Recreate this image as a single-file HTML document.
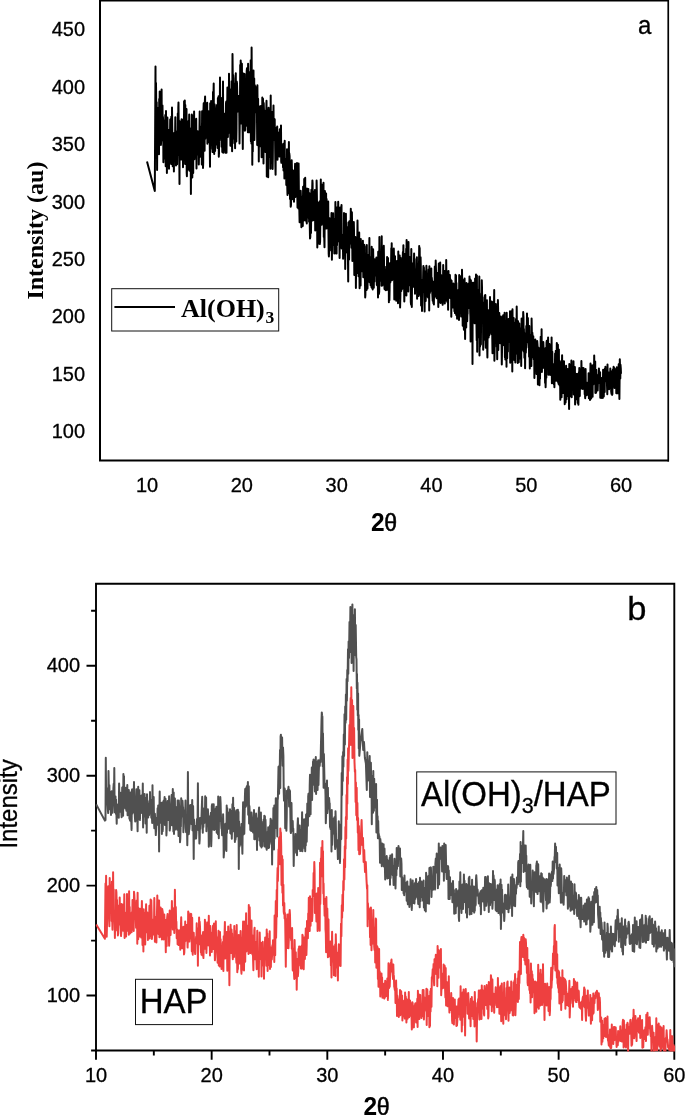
<!DOCTYPE html>
<html><head><meta charset="utf-8"><title>XRD</title>
<style>html,body{margin:0;padding:0;background:#fff;}body{width:685px;height:1115px;overflow:hidden;font-family:"Liberation Sans",sans-serif;}</style>
</head><body>
<svg width="685" height="1115" viewBox="0 0 685 1115" style="display:block;will-change:transform">
<rect width="685" height="1115" fill="#fff"/>
<g fill="none" stroke="#000">
<path d="M100,0 V460.5 H669" stroke-width="2.0"/>
<path d="M99,0.8 H669" stroke-width="1.6"/><path d="M668.25,0 V461.5" stroke-width="1.7"/>
</g>
<text font-family="Liberation Sans, sans-serif" font-size="20" text-anchor="end" transform="translate(85.10,438.09) scale(1,1.04)"  stroke="#000" stroke-width="0.3">100</text>
<text font-family="Liberation Sans, sans-serif" font-size="20" text-anchor="end" transform="translate(85.10,380.71) scale(1,1.04)"  stroke="#000" stroke-width="0.3">150</text>
<text font-family="Liberation Sans, sans-serif" font-size="20" text-anchor="end" transform="translate(85.10,323.32) scale(1,1.04)"  stroke="#000" stroke-width="0.3">200</text>
<text font-family="Liberation Sans, sans-serif" font-size="20" text-anchor="end" transform="translate(85.10,265.94) scale(1,1.04)"  stroke="#000" stroke-width="0.3">250</text>
<text font-family="Liberation Sans, sans-serif" font-size="20" text-anchor="end" transform="translate(85.10,208.55) scale(1,1.04)"  stroke="#000" stroke-width="0.3">300</text>
<text font-family="Liberation Sans, sans-serif" font-size="20" text-anchor="end" transform="translate(85.10,151.17) scale(1,1.04)"  stroke="#000" stroke-width="0.3">350</text>
<text font-family="Liberation Sans, sans-serif" font-size="20" text-anchor="end" transform="translate(85.10,93.78) scale(1,1.04)"  stroke="#000" stroke-width="0.3">400</text>
<text font-family="Liberation Sans, sans-serif" font-size="20" text-anchor="end" transform="translate(85.10,36.40) scale(1,1.04)"  stroke="#000" stroke-width="0.3">450</text>
<text font-family="Liberation Sans, sans-serif" font-size="20" text-anchor="middle" transform="translate(147.00,491.60) scale(1,1.04)"  stroke="#000" stroke-width="0.3">10</text>
<text font-family="Liberation Sans, sans-serif" font-size="20" text-anchor="middle" transform="translate(241.82,491.60) scale(1,1.04)"  stroke="#000" stroke-width="0.3">20</text>
<text font-family="Liberation Sans, sans-serif" font-size="20" text-anchor="middle" transform="translate(336.64,491.60) scale(1,1.04)"  stroke="#000" stroke-width="0.3">30</text>
<text font-family="Liberation Sans, sans-serif" font-size="20" text-anchor="middle" transform="translate(431.46,491.60) scale(1,1.04)"  stroke="#000" stroke-width="0.3">40</text>
<text font-family="Liberation Sans, sans-serif" font-size="20" text-anchor="middle" transform="translate(526.28,491.60) scale(1,1.04)"  stroke="#000" stroke-width="0.3">50</text>
<text font-family="Liberation Sans, sans-serif" font-size="20" text-anchor="middle" transform="translate(621.10,491.60) scale(1,1.04)"  stroke="#000" stroke-width="0.3">60</text>
<text font-family="Liberation Sans, sans-serif" font-size="24" text-anchor="start" transform="translate(638.00,33.60) scale(1,1.04)"  stroke="#000" stroke-width="0.3">a</text>
<text font-family="Liberation Sans, sans-serif" font-size="24.5" text-anchor="start" transform="translate(371.00,531.00) scale(1,1.04)" font-weight="bold">2<tspan font-weight="normal" font-size="23.2" dx="-0.5" stroke="#000" stroke-width="0.5">θ</tspan></text>
<text font-family="Liberation Serif, serif" font-size="24" font-weight="bold" transform="translate(42.8,299.6) rotate(-90)">Intensity (au)</text>
<path d="M147.0,161.5 L154.8,191.0 L155.5,66.5 L155.7,150.0 L156.0,83.0 L156.2,102.3 L156.4,116.7 L156.7,102.2 L156.9,134.0 L157.1,170.0 L157.4,117.2 L157.6,113.9 L157.8,147.9 L158.1,144.9 L158.3,137.3 L158.5,107.7 L158.8,133.7 L159.0,154.2 L159.2,99.1 L159.5,122.7 L159.7,91.5 L159.9,103.5 L160.2,94.1 L160.4,131.4 L160.6,106.1 L160.9,144.9 L161.1,141.6 L161.3,132.2 L161.6,89.4 L161.8,124.1 L162.0,136.2 L162.2,140.3 L162.5,105.5 L162.7,126.7 L162.9,116.8 L163.2,121.1 L163.4,162.3 L163.6,120.4 L163.9,137.9 L164.1,158.4 L164.3,126.0 L164.6,135.8 L164.8,141.2 L165.0,139.8 L165.3,115.1 L165.5,141.1 L165.7,166.3 L166.0,111.1 L166.2,157.8 L166.4,142.3 L166.7,126.2 L166.9,172.9 L167.1,154.5 L167.4,117.5 L167.6,142.0 L167.8,152.0 L168.1,137.4 L168.3,155.2 L168.5,140.3 L168.8,155.4 L169.0,168.8 L169.2,129.7 L169.5,146.5 L169.7,133.5 L169.9,144.5 L170.2,119.6 L170.4,130.0 L170.6,138.5 L170.9,160.2 L171.1,163.9 L171.3,116.8 L171.6,125.9 L171.8,155.1 L172.0,107.6 L172.3,131.7 L172.5,139.9 L172.7,166.3 L173.0,156.6 L173.2,133.8 L173.4,133.5 L173.7,136.8 L173.9,171.6 L174.1,133.3 L174.4,135.6 L174.6,149.2 L174.8,138.8 L175.1,136.3 L175.3,117.2 L175.5,141.2 L175.7,131.0 L176.0,165.5 L176.2,155.5 L176.4,140.4 L176.7,156.3 L176.9,134.1 L177.1,164.3 L177.4,142.1 L177.6,155.0 L177.8,113.4 L178.1,149.9 L178.3,107.6 L178.5,102.4 L178.8,134.3 L179.0,120.4 L179.2,145.1 L179.5,183.9 L179.7,121.3 L179.9,126.0 L180.2,146.9 L180.4,153.8 L180.6,137.5 L180.9,137.5 L181.1,159.6 L181.3,155.5 L181.6,119.3 L181.8,142.6 L182.0,145.4 L182.3,119.6 L182.5,150.4 L182.7,123.1 L183.0,167.3 L183.2,148.3 L183.4,145.6 L183.7,128.2 L183.9,139.9 L184.1,101.3 L184.4,116.1 L184.6,152.9 L184.8,100.4 L185.1,164.0 L185.3,105.0 L185.5,161.8 L185.8,122.7 L186.0,162.9 L186.2,147.3 L186.5,109.1 L186.7,172.9 L186.9,176.2 L187.2,142.2 L187.4,137.7 L187.6,140.9 L187.9,121.5 L188.1,169.4 L188.3,130.2 L188.6,141.5 L188.8,123.9 L189.0,128.3 L189.2,114.6 L189.5,170.8 L189.7,139.5 L189.9,166.1 L190.2,145.0 L190.4,128.7 L190.6,137.1 L190.9,194.0 L191.1,145.3 L191.3,135.5 L191.6,136.7 L191.8,114.4 L192.0,125.6 L192.3,177.5 L192.5,129.6 L192.7,122.4 L193.0,152.6 L193.2,173.1 L193.4,115.5 L193.7,139.9 L193.9,130.6 L194.1,111.4 L194.4,159.2 L194.6,142.4 L194.8,144.5 L195.1,126.9 L195.3,153.1 L195.5,132.2 L195.8,140.1 L196.0,120.8 L196.2,118.8 L196.5,168.6 L196.7,131.6 L196.9,148.6 L197.2,141.8 L197.4,133.2 L197.6,131.2 L197.9,154.5 L198.1,134.6 L198.3,137.6 L198.6,141.7 L198.8,164.4 L199.0,154.7 L199.3,146.8 L199.5,126.8 L199.7,111.4 L200.0,156.5 L200.2,156.6 L200.4,134.5 L200.7,148.2 L200.9,152.5 L201.1,152.2 L201.4,154.7 L201.6,126.6 L201.8,164.5 L202.1,111.2 L202.3,152.8 L202.5,145.3 L202.7,152.2 L203.0,167.9 L203.2,162.6 L203.4,112.0 L203.7,103.2 L203.9,150.5 L204.1,113.0 L204.4,132.4 L204.6,150.7 L204.8,102.4 L205.1,96.6 L205.3,138.6 L205.5,133.4 L205.8,126.9 L206.0,132.4 L206.2,113.9 L206.5,103.3 L206.7,129.2 L206.9,113.2 L207.2,102.8 L207.4,143.7 L207.6,131.8 L207.9,142.3 L208.1,113.0 L208.3,118.6 L208.6,111.2 L208.8,113.1 L209.0,135.6 L209.3,115.1 L209.5,138.7 L209.7,139.0 L210.0,166.8 L210.2,103.3 L210.4,148.9 L210.7,128.2 L210.9,129.3 L211.1,100.9 L211.4,119.6 L211.6,144.8 L211.8,127.9 L212.1,131.1 L212.3,122.8 L212.5,152.1 L212.8,128.8 L213.0,92.1 L213.2,115.0 L213.5,94.3 L213.7,83.4 L213.9,116.5 L214.2,154.1 L214.4,129.2 L214.6,104.2 L214.9,108.4 L215.1,151.0 L215.3,132.0 L215.5,129.3 L215.8,126.8 L216.0,128.9 L216.2,144.6 L216.5,139.5 L216.7,131.7 L216.9,104.9 L217.2,137.8 L217.4,110.0 L217.6,147.9 L217.9,98.0 L218.1,121.1 L218.3,124.0 L218.6,96.3 L218.8,156.8 L219.0,153.2 L219.3,112.5 L219.5,140.2 L219.7,131.1 L220.0,77.5 L220.2,128.1 L220.4,120.3 L220.7,123.7 L220.9,97.8 L221.1,114.6 L221.4,116.1 L221.6,146.8 L221.8,128.1 L222.1,120.0 L222.3,151.9 L222.5,105.5 L222.8,109.9 L223.0,81.6 L223.2,152.7 L223.5,141.6 L223.7,140.7 L223.9,135.1 L224.2,121.3 L224.4,125.7 L224.6,113.8 L224.9,115.5 L225.1,121.5 L225.3,152.7 L225.6,131.9 L225.8,116.4 L226.0,103.1 L226.3,101.4 L226.5,152.7 L226.7,129.0 L227.0,117.6 L227.2,105.6 L227.4,87.5 L227.7,112.4 L227.9,136.9 L228.1,104.5 L228.4,108.2 L228.6,107.5 L228.8,114.4 L229.0,73.8 L229.3,104.4 L229.5,89.0 L229.7,133.0 L230.0,90.2 L230.2,125.3 L230.4,145.7 L230.7,100.9 L230.9,92.5 L231.1,113.3 L231.4,106.5 L231.6,81.3 L231.8,119.1 L232.1,151.3 L232.3,99.7 L232.5,54.0 L232.8,79.9 L233.0,114.9 L233.2,75.0 L233.5,78.5 L233.7,138.4 L233.9,83.5 L234.2,134.8 L234.4,143.2 L234.6,113.3 L234.9,119.7 L235.1,148.2 L235.3,99.6 L235.6,89.6 L235.8,73.3 L236.0,107.0 L236.3,141.4 L236.5,129.8 L236.7,81.5 L237.0,83.5 L237.2,91.5 L237.4,111.8 L237.7,98.0 L237.9,109.2 L238.1,111.0 L238.4,96.1 L238.6,102.3 L238.8,108.4 L239.1,100.3 L239.3,116.0 L239.5,143.5 L239.8,117.9 L240.0,104.3 L240.2,65.1 L240.5,112.6 L240.7,60.5 L240.9,69.0 L241.2,123.5 L241.4,120.0 L241.6,97.9 L241.9,63.7 L242.1,93.0 L242.3,85.2 L242.5,119.0 L242.8,149.1 L243.0,108.1 L243.2,82.2 L243.5,73.5 L243.7,100.9 L243.9,97.4 L244.2,73.8 L244.4,105.7 L244.6,74.1 L244.9,130.8 L245.1,130.1 L245.3,130.0 L245.6,89.6 L245.8,116.3 L246.0,99.6 L246.3,92.7 L246.5,94.3 L246.7,71.1 L247.0,68.2 L247.2,126.1 L247.4,99.8 L247.7,111.6 L247.9,132.3 L248.1,63.7 L248.4,84.3 L248.6,111.2 L248.8,117.0 L249.1,93.8 L249.3,132.3 L249.5,109.9 L249.8,71.9 L250.0,79.6 L250.2,127.1 L250.5,118.7 L250.7,60.2 L250.9,141.3 L251.2,124.2 L251.4,143.5 L251.6,47.4 L251.9,100.7 L252.1,79.6 L252.3,164.8 L252.6,106.7 L252.8,151.6 L253.0,93.3 L253.3,116.1 L253.5,70.4 L253.7,100.9 L254.0,138.0 L254.2,78.6 L254.4,140.1 L254.7,121.8 L254.9,85.3 L255.1,99.1 L255.3,100.6 L255.6,112.3 L255.8,100.0 L256.0,93.9 L256.3,108.9 L256.5,92.0 L256.7,87.0 L257.0,118.9 L257.2,144.9 L257.4,85.2 L257.7,123.0 L257.9,106.4 L258.1,98.7 L258.4,146.1 L258.6,111.4 L258.8,161.6 L259.1,106.3 L259.3,137.5 L259.5,121.7 L259.8,109.1 L260.0,145.2 L260.2,126.5 L260.5,146.3 L260.7,130.4 L260.9,105.9 L261.2,130.4 L261.4,134.7 L261.6,157.3 L261.9,111.9 L262.1,134.7 L262.3,97.6 L262.6,153.0 L262.8,110.6 L263.0,98.7 L263.3,136.1 L263.5,163.6 L263.7,103.0 L264.0,111.6 L264.2,119.1 L264.4,110.4 L264.7,146.6 L264.9,118.1 L265.1,119.6 L265.4,152.1 L265.6,119.4 L265.8,148.9 L266.1,115.5 L266.3,110.7 L266.5,100.7 L266.8,176.6 L267.0,130.5 L267.2,144.5 L267.5,138.5 L267.7,142.2 L267.9,140.3 L268.2,177.2 L268.4,116.3 L268.6,107.8 L268.8,116.4 L269.1,110.0 L269.3,155.8 L269.5,157.0 L269.8,117.7 L270.0,109.8 L270.2,130.9 L270.5,168.8 L270.7,95.4 L270.9,152.0 L271.2,117.6 L271.4,163.2 L271.6,118.5 L271.9,134.6 L272.1,111.9 L272.3,120.3 L272.6,169.1 L272.8,157.8 L273.0,131.7 L273.3,122.2 L273.5,105.5 L273.7,131.7 L274.0,140.1 L274.2,138.6 L274.4,139.1 L274.7,119.3 L274.9,139.8 L275.1,140.7 L275.4,166.8 L275.6,174.8 L275.8,139.6 L276.1,128.1 L276.3,143.4 L276.5,132.7 L276.8,131.1 L277.0,144.9 L277.2,126.4 L277.5,159.7 L277.7,145.6 L277.9,154.6 L278.2,146.2 L278.4,136.0 L278.6,132.7 L278.9,146.5 L279.1,140.9 L279.3,156.6 L279.6,152.8 L279.8,129.3 L280.0,156.2 L280.3,131.6 L280.5,145.5 L280.7,152.2 L281.0,125.5 L281.2,161.4 L281.4,162.8 L281.7,157.9 L281.9,153.7 L282.1,155.0 L282.3,145.3 L282.6,159.1 L282.8,154.3 L283.0,167.2 L283.3,143.8 L283.5,170.5 L283.7,168.6 L284.0,164.4 L284.2,158.9 L284.4,178.4 L284.7,140.8 L284.9,177.6 L285.1,173.6 L285.4,175.4 L285.6,177.5 L285.8,159.0 L286.1,166.8 L286.3,184.9 L286.5,181.7 L286.8,178.1 L287.0,149.3 L287.2,184.6 L287.5,195.0 L287.7,193.1 L287.9,180.0 L288.2,150.4 L288.4,193.1 L288.6,173.7 L288.9,141.9 L289.1,184.1 L289.3,153.3 L289.6,156.2 L289.8,167.2 L290.0,199.1 L290.3,171.9 L290.5,184.3 L290.7,206.8 L291.0,205.0 L291.2,178.9 L291.4,176.2 L291.7,160.3 L291.9,169.0 L292.1,189.5 L292.4,189.6 L292.6,184.7 L292.8,199.2 L293.1,170.5 L293.3,182.5 L293.5,196.4 L293.8,194.1 L294.0,201.8 L294.2,192.2 L294.5,181.1 L294.7,192.8 L294.9,171.3 L295.1,163.8 L295.4,196.9 L295.6,187.4 L295.8,194.6 L296.1,165.7 L296.3,184.3 L296.5,181.2 L296.8,177.1 L297.0,163.1 L297.2,187.4 L297.5,207.6 L297.7,200.0 L297.9,184.3 L298.2,194.8 L298.4,208.5 L298.6,163.5 L298.9,194.5 L299.1,206.0 L299.3,208.2 L299.6,222.3 L299.8,216.0 L300.0,204.4 L300.3,205.4 L300.5,212.2 L300.7,190.7 L301.0,198.9 L301.2,214.4 L301.4,227.3 L301.7,197.0 L301.9,199.2 L302.1,205.4 L302.4,224.5 L302.6,202.8 L302.8,226.0 L303.1,186.7 L303.3,199.5 L303.5,199.4 L303.8,216.8 L304.0,220.4 L304.2,178.9 L304.5,186.9 L304.7,208.5 L304.9,190.2 L305.2,177.7 L305.4,220.1 L305.6,212.2 L305.9,212.7 L306.1,194.5 L306.3,221.8 L306.6,199.3 L306.8,223.5 L307.0,188.5 L307.3,189.4 L307.5,208.9 L307.7,192.4 L308.0,217.6 L308.2,210.3 L308.4,189.1 L308.6,207.4 L308.9,199.1 L309.1,221.8 L309.3,192.9 L309.6,196.4 L309.8,226.4 L310.0,238.6 L310.3,237.1 L310.5,206.9 L310.7,211.0 L311.0,233.1 L311.2,205.3 L311.4,189.8 L311.7,210.9 L311.9,217.5 L312.1,192.6 L312.4,180.4 L312.6,183.1 L312.8,220.5 L313.1,193.8 L313.3,205.1 L313.5,212.8 L313.8,220.1 L314.0,201.3 L314.2,217.3 L314.5,191.5 L314.7,201.5 L314.9,189.9 L315.2,230.6 L315.4,208.2 L315.6,193.9 L315.9,201.8 L316.1,204.1 L316.3,222.5 L316.6,180.4 L316.8,189.7 L317.0,202.3 L317.3,247.6 L317.5,229.1 L317.7,208.2 L318.0,224.9 L318.2,243.8 L318.4,205.6 L318.7,202.6 L318.9,232.9 L319.1,220.8 L319.4,224.5 L319.6,201.6 L319.8,244.1 L320.1,241.5 L320.3,223.6 L320.5,225.2 L320.8,179.6 L321.0,224.0 L321.2,208.7 L321.5,220.6 L321.7,224.8 L321.9,205.4 L322.1,184.7 L322.4,220.6 L322.6,200.5 L322.8,208.3 L323.1,203.8 L323.3,208.9 L323.5,182.7 L323.8,237.1 L324.0,221.2 L324.2,236.5 L324.5,247.3 L324.7,218.9 L324.9,191.1 L325.2,204.4 L325.4,200.8 L325.6,212.5 L325.9,223.1 L326.1,193.5 L326.3,228.4 L326.6,199.1 L326.8,228.2 L327.0,221.1 L327.3,217.9 L327.5,223.3 L327.7,216.1 L328.0,215.9 L328.2,201.5 L328.4,226.4 L328.7,254.0 L328.9,256.4 L329.1,249.1 L329.4,240.6 L329.6,218.3 L329.8,250.6 L330.1,228.0 L330.3,228.7 L330.5,225.0 L330.8,230.8 L331.0,222.7 L331.2,228.7 L331.5,213.1 L331.7,223.3 L331.9,259.8 L332.2,228.7 L332.4,225.8 L332.6,238.7 L332.9,242.1 L333.1,213.3 L333.3,227.2 L333.6,245.0 L333.8,234.0 L334.0,231.6 L334.3,253.5 L334.5,218.8 L334.7,231.5 L335.0,220.8 L335.2,253.3 L335.4,202.0 L335.6,218.5 L335.9,220.2 L336.1,242.3 L336.3,241.9 L336.6,253.6 L336.8,207.5 L337.0,245.2 L337.3,226.3 L337.5,220.1 L337.7,241.5 L338.0,216.4 L338.2,201.8 L338.4,225.0 L338.7,207.6 L338.9,220.0 L339.1,238.1 L339.4,237.5 L339.6,258.1 L339.8,228.8 L340.1,207.5 L340.3,219.7 L340.5,218.1 L340.8,213.5 L341.0,242.5 L341.2,223.2 L341.5,205.1 L341.7,248.6 L341.9,234.4 L342.2,243.3 L342.4,238.9 L342.6,248.7 L342.9,238.4 L343.1,258.8 L343.3,244.9 L343.6,244.7 L343.8,245.8 L344.0,213.1 L344.3,235.5 L344.5,234.7 L344.7,244.3 L345.0,215.9 L345.2,268.9 L345.4,243.7 L345.7,220.0 L345.9,213.7 L346.1,237.1 L346.4,240.9 L346.6,227.5 L346.8,244.3 L347.1,228.7 L347.3,252.8 L347.5,227.1 L347.8,241.3 L348.0,261.7 L348.2,281.6 L348.4,222.6 L348.7,233.5 L348.9,226.1 L349.1,259.6 L349.4,221.2 L349.6,234.2 L349.8,243.6 L350.1,224.4 L350.3,225.0 L350.5,234.6 L350.8,208.7 L351.0,217.3 L351.2,236.4 L351.5,247.7 L351.7,240.9 L351.9,212.2 L352.2,234.2 L352.4,261.0 L352.6,255.5 L352.9,241.9 L353.1,226.2 L353.3,257.7 L353.6,234.1 L353.8,222.0 L354.0,230.1 L354.3,275.0 L354.5,252.9 L354.7,271.7 L355.0,239.1 L355.2,268.1 L355.4,237.0 L355.7,245.5 L355.9,288.1 L356.1,265.0 L356.4,239.1 L356.6,247.7 L356.8,256.6 L357.1,273.1 L357.3,240.6 L357.5,220.4 L357.8,245.1 L358.0,251.4 L358.2,253.6 L358.5,276.2 L358.7,258.2 L358.9,268.4 L359.2,232.6 L359.4,269.7 L359.6,288.3 L359.9,270.1 L360.1,260.6 L360.3,259.3 L360.6,285.4 L360.8,239.0 L361.0,254.2 L361.3,265.4 L361.5,271.3 L361.7,249.7 L361.9,264.3 L362.2,253.7 L362.4,261.5 L362.6,257.4 L362.9,240.7 L363.1,260.7 L363.3,277.3 L363.6,244.6 L363.8,258.0 L364.0,275.4 L364.3,244.7 L364.5,267.2 L364.7,246.4 L365.0,284.0 L365.2,297.5 L365.4,294.7 L365.7,261.7 L365.9,278.6 L366.1,267.6 L366.4,267.5 L366.6,290.0 L366.8,244.9 L367.1,283.6 L367.3,265.1 L367.5,288.5 L367.8,269.7 L368.0,255.1 L368.2,271.4 L368.5,278.5 L368.7,267.1 L368.9,275.2 L369.2,258.4 L369.4,238.1 L369.6,282.3 L369.9,279.2 L370.1,270.3 L370.3,268.9 L370.6,285.3 L370.8,260.6 L371.0,256.9 L371.3,265.9 L371.5,287.3 L371.7,246.8 L372.0,288.1 L372.2,258.7 L372.4,252.0 L372.7,289.6 L372.9,268.4 L373.1,249.2 L373.4,263.0 L373.6,283.9 L373.8,287.8 L374.1,261.3 L374.3,276.3 L374.5,281.6 L374.8,259.2 L375.0,275.6 L375.2,268.7 L375.4,259.7 L375.7,259.4 L375.9,268.8 L376.1,267.9 L376.4,257.5 L376.6,259.4 L376.8,284.9 L377.1,270.6 L377.3,282.0 L377.5,285.8 L377.8,276.3 L378.0,297.4 L378.2,251.8 L378.5,280.0 L378.7,261.2 L378.9,293.9 L379.2,291.8 L379.4,236.9 L379.6,249.2 L379.9,277.8 L380.1,280.8 L380.3,280.8 L380.6,267.5 L380.8,276.9 L381.0,280.7 L381.3,267.3 L381.5,285.7 L381.7,236.2 L382.0,279.8 L382.2,250.8 L382.4,285.4 L382.7,264.9 L382.9,253.6 L383.1,276.5 L383.4,253.1 L383.6,253.9 L383.8,245.8 L384.1,269.7 L384.3,279.6 L384.5,289.1 L384.8,269.5 L385.0,289.5 L385.2,271.8 L385.5,270.2 L385.7,282.0 L385.9,290.2 L386.2,266.7 L386.4,268.6 L386.6,270.3 L386.9,274.3 L387.1,256.9 L387.3,289.8 L387.6,265.0 L387.8,280.0 L388.0,258.0 L388.2,279.0 L388.5,279.7 L388.7,265.7 L388.9,302.3 L389.2,280.2 L389.4,300.2 L389.6,290.1 L389.9,263.3 L390.1,267.4 L390.3,282.4 L390.6,276.5 L390.8,274.8 L391.0,269.1 L391.3,248.3 L391.5,269.9 L391.7,243.2 L392.0,280.2 L392.2,262.0 L392.4,263.0 L392.7,271.1 L392.9,279.3 L393.1,253.4 L393.4,250.3 L393.6,258.9 L393.8,248.5 L394.1,261.1 L394.3,299.5 L394.5,260.5 L394.8,288.2 L395.0,256.3 L395.2,281.5 L395.5,272.0 L395.7,275.6 L395.9,285.9 L396.2,300.8 L396.4,279.3 L396.6,278.2 L396.9,261.1 L397.1,286.0 L397.3,273.2 L397.6,289.7 L397.8,277.5 L398.0,303.2 L398.3,251.5 L398.5,273.7 L398.7,292.1 L399.0,271.3 L399.2,264.5 L399.4,272.7 L399.7,255.5 L399.9,279.0 L400.1,307.6 L400.4,294.6 L400.6,257.7 L400.8,260.9 L401.1,268.0 L401.3,291.1 L401.5,260.9 L401.7,262.2 L402.0,288.8 L402.2,288.9 L402.4,268.3 L402.7,257.2 L402.9,252.1 L403.1,264.1 L403.4,245.2 L403.6,287.3 L403.8,264.0 L404.1,283.2 L404.3,301.4 L404.5,293.0 L404.8,254.1 L405.0,287.0 L405.2,291.0 L405.5,259.2 L405.7,257.6 L405.9,271.8 L406.2,248.7 L406.4,295.4 L406.6,240.1 L406.9,253.6 L407.1,267.5 L407.3,267.9 L407.6,275.8 L407.8,277.5 L408.0,268.6 L408.3,291.6 L408.5,242.1 L408.7,273.9 L409.0,260.8 L409.2,275.4 L409.4,277.1 L409.7,257.0 L409.9,260.6 L410.1,285.4 L410.4,278.4 L410.6,260.7 L410.8,302.2 L411.1,304.6 L411.3,249.1 L411.5,278.5 L411.8,306.9 L412.0,286.8 L412.2,277.4 L412.5,270.2 L412.7,263.6 L412.9,269.6 L413.2,263.8 L413.4,286.8 L413.6,266.4 L413.9,265.8 L414.1,253.5 L414.3,273.5 L414.6,258.9 L414.8,271.6 L415.0,293.7 L415.2,282.4 L415.5,284.6 L415.7,281.1 L415.9,276.1 L416.2,272.5 L416.4,269.2 L416.6,288.6 L416.9,257.2 L417.1,298.8 L417.3,277.4 L417.6,263.5 L417.8,268.0 L418.0,264.3 L418.3,279.1 L418.5,263.7 L418.7,296.0 L419.0,263.9 L419.2,246.0 L419.4,264.7 L419.7,247.9 L419.9,276.3 L420.1,294.5 L420.4,289.1 L420.6,257.3 L420.8,266.2 L421.1,305.6 L421.3,284.8 L421.5,279.7 L421.8,296.7 L422.0,311.0 L422.2,299.9 L422.5,282.5 L422.7,286.6 L422.9,291.8 L423.2,272.5 L423.4,266.1 L423.6,283.0 L423.9,267.5 L424.1,281.2 L424.3,284.2 L424.6,311.5 L424.8,271.3 L425.0,283.7 L425.3,282.9 L425.5,292.8 L425.7,301.1 L426.0,279.0 L426.2,274.7 L426.4,265.8 L426.7,275.2 L426.9,296.5 L427.1,290.1 L427.4,275.8 L427.6,285.0 L427.8,290.6 L428.1,297.4 L428.3,282.4 L428.5,287.5 L428.7,269.4 L429.0,275.7 L429.2,310.4 L429.4,266.3 L429.7,285.9 L429.9,293.0 L430.1,284.1 L430.4,278.6 L430.6,289.3 L430.8,290.7 L431.1,289.0 L431.3,268.6 L431.5,288.3 L431.8,277.8 L432.0,280.5 L432.2,291.6 L432.5,297.3 L432.7,300.8 L432.9,281.6 L433.2,300.5 L433.4,303.3 L433.6,302.0 L433.9,304.5 L434.1,283.5 L434.3,282.6 L434.6,296.7 L434.8,266.6 L435.0,287.8 L435.3,276.0 L435.5,277.5 L435.7,260.6 L436.0,270.6 L436.2,283.4 L436.4,296.7 L436.7,298.3 L436.9,282.6 L437.1,282.1 L437.4,272.9 L437.6,290.7 L437.8,280.9 L438.1,293.9 L438.3,306.9 L438.5,283.0 L438.8,263.4 L439.0,271.4 L439.2,264.0 L439.5,266.4 L439.7,302.2 L439.9,286.9 L440.2,262.6 L440.4,294.1 L440.6,302.9 L440.9,279.5 L441.1,274.9 L441.3,279.6 L441.5,289.2 L441.8,294.6 L442.0,302.2 L442.2,302.4 L442.5,302.8 L442.7,304.8 L442.9,295.9 L443.2,265.1 L443.4,284.3 L443.6,290.4 L443.9,279.6 L444.1,297.6 L444.3,278.9 L444.6,271.0 L444.8,303.5 L445.0,294.8 L445.3,289.0 L445.5,299.0 L445.7,300.6 L446.0,290.9 L446.2,260.1 L446.4,277.6 L446.7,280.5 L446.9,273.9 L447.1,289.7 L447.4,302.0 L447.6,279.0 L447.8,271.2 L448.1,309.8 L448.3,280.7 L448.5,271.1 L448.8,290.9 L449.0,292.8 L449.2,277.9 L449.5,297.8 L449.7,280.8 L449.9,275.0 L450.2,290.0 L450.4,298.2 L450.6,279.4 L450.9,293.1 L451.1,288.0 L451.3,316.7 L451.6,280.7 L451.8,307.1 L452.0,289.4 L452.3,288.3 L452.5,300.4 L452.7,302.8 L453.0,307.6 L453.2,295.8 L453.4,283.5 L453.7,284.4 L453.9,299.4 L454.1,301.3 L454.4,311.3 L454.6,299.7 L454.8,307.8 L455.0,313.1 L455.3,296.4 L455.5,274.7 L455.7,277.7 L456.0,275.5 L456.2,315.0 L456.4,283.1 L456.7,312.7 L456.9,304.7 L457.1,318.7 L457.4,310.5 L457.6,295.0 L457.8,294.5 L458.1,298.7 L458.3,300.2 L458.5,289.8 L458.8,297.4 L459.0,319.9 L459.2,274.9 L459.5,303.3 L459.7,285.1 L459.9,302.1 L460.2,312.6 L460.4,298.4 L460.6,311.3 L460.9,276.3 L461.1,316.6 L461.3,290.2 L461.6,311.0 L461.8,304.7 L462.0,269.8 L462.3,289.7 L462.5,306.1 L462.7,325.8 L463.0,307.2 L463.2,307.3 L463.4,280.2 L463.7,324.7 L463.9,329.8 L464.1,303.8 L464.4,299.3 L464.6,278.4 L464.8,318.3 L465.1,339.1 L465.3,317.1 L465.5,325.5 L465.8,314.6 L466.0,287.7 L466.2,327.4 L466.5,283.1 L466.7,300.7 L466.9,310.3 L467.2,321.2 L467.4,313.6 L467.6,313.8 L467.9,292.6 L468.1,283.9 L468.3,308.3 L468.5,293.3 L468.8,283.4 L469.0,284.0 L469.2,297.8 L469.5,276.5 L469.7,283.4 L469.9,279.0 L470.2,312.0 L470.4,316.1 L470.6,341.4 L470.9,280.2 L471.1,293.8 L471.3,325.2 L471.6,303.1 L471.8,301.0 L472.0,337.3 L472.3,299.9 L472.5,364.0 L472.7,282.7 L473.0,315.2 L473.2,315.1 L473.4,282.8 L473.7,289.6 L473.9,320.4 L474.1,322.1 L474.4,296.9 L474.6,323.3 L474.8,321.9 L475.1,278.5 L475.3,304.3 L475.5,319.4 L475.8,298.6 L476.0,274.6 L476.2,304.3 L476.5,327.2 L476.7,340.2 L476.9,275.4 L477.2,351.8 L477.4,290.1 L477.6,331.6 L477.9,337.2 L478.1,333.0 L478.3,316.9 L478.6,290.7 L478.8,326.8 L479.0,300.7 L479.3,276.5 L479.5,355.6 L479.7,329.6 L480.0,346.8 L480.2,297.6 L480.4,342.9 L480.7,344.7 L480.9,344.1 L481.1,315.4 L481.4,293.6 L481.6,312.1 L481.8,280.3 L482.0,287.0 L482.3,318.3 L482.5,297.3 L482.7,313.6 L483.0,314.9 L483.2,349.8 L483.4,340.7 L483.7,316.8 L483.9,340.0 L484.1,302.5 L484.4,311.2 L484.6,335.6 L484.8,295.4 L485.1,312.8 L485.3,295.1 L485.5,322.0 L485.8,347.8 L486.0,305.1 L486.2,324.7 L486.5,304.5 L486.7,300.7 L486.9,300.2 L487.2,347.6 L487.4,357.4 L487.6,332.3 L487.9,310.0 L488.1,336.5 L488.3,316.0 L488.6,337.6 L488.8,329.0 L489.0,328.6 L489.3,335.3 L489.5,313.3 L489.7,317.1 L490.0,296.9 L490.2,316.9 L490.4,301.6 L490.7,323.0 L490.9,308.8 L491.1,327.2 L491.4,333.9 L491.6,301.5 L491.8,311.0 L492.1,308.7 L492.3,339.2 L492.5,353.3 L492.8,341.1 L493.0,319.8 L493.2,349.9 L493.5,301.7 L493.7,350.2 L493.9,313.6 L494.2,290.0 L494.4,360.7 L494.6,350.8 L494.8,308.5 L495.1,330.0 L495.3,323.6 L495.5,330.1 L495.8,303.9 L496.0,315.5 L496.2,335.5 L496.5,331.0 L496.7,346.8 L496.9,329.0 L497.2,359.3 L497.4,314.9 L497.6,332.0 L497.9,299.9 L498.1,308.0 L498.3,350.1 L498.6,314.4 L498.8,339.5 L499.0,329.5 L499.3,313.0 L499.5,323.8 L499.7,321.4 L500.0,322.0 L500.2,343.2 L500.4,341.6 L500.7,320.9 L500.9,316.5 L501.1,336.2 L501.4,329.3 L501.6,347.7 L501.8,364.5 L502.1,344.8 L502.3,330.5 L502.5,328.0 L502.8,317.0 L503.0,316.4 L503.2,315.2 L503.5,325.5 L503.7,325.0 L503.9,345.2 L504.2,326.0 L504.4,329.4 L504.6,312.8 L504.9,357.2 L505.1,341.7 L505.3,359.6 L505.6,345.7 L505.8,355.3 L506.0,327.9 L506.3,344.5 L506.5,366.7 L506.7,312.8 L507.0,351.4 L507.2,358.3 L507.4,339.7 L507.7,344.6 L507.9,351.6 L508.1,320.8 L508.3,339.9 L508.6,318.9 L508.8,321.7 L509.0,322.4 L509.3,330.0 L509.5,335.3 L509.7,341.7 L510.0,311.2 L510.2,362.8 L510.4,353.8 L510.7,347.3 L510.9,328.2 L511.1,333.0 L511.4,344.8 L511.6,343.5 L511.8,310.9 L512.1,349.4 L512.3,371.6 L512.5,309.2 L512.8,353.3 L513.0,343.3 L513.2,334.1 L513.5,358.0 L513.7,317.9 L513.9,340.3 L514.2,360.1 L514.4,334.0 L514.6,331.1 L514.9,340.6 L515.1,330.6 L515.3,362.5 L515.6,322.5 L515.8,353.9 L516.0,319.0 L516.3,351.3 L516.5,337.9 L516.7,306.4 L517.0,339.5 L517.2,322.0 L517.4,331.8 L517.7,363.0 L517.9,321.1 L518.1,321.8 L518.4,361.8 L518.6,340.6 L518.8,362.2 L519.1,343.8 L519.3,323.5 L519.5,336.9 L519.8,358.5 L520.0,354.2 L520.2,338.8 L520.5,339.6 L520.7,335.7 L520.9,328.2 L521.2,365.9 L521.4,338.0 L521.6,318.4 L521.8,328.7 L522.1,349.7 L522.3,348.2 L522.5,335.0 L522.8,324.6 L523.0,337.4 L523.2,312.1 L523.5,317.2 L523.7,351.6 L523.9,329.0 L524.2,344.4 L524.4,357.7 L524.6,349.7 L524.9,338.8 L525.1,368.3 L525.3,350.5 L525.6,333.2 L525.8,352.8 L526.0,347.6 L526.3,326.0 L526.5,342.5 L526.7,338.7 L527.0,313.5 L527.2,340.0 L527.4,338.7 L527.7,336.7 L527.9,318.0 L528.1,338.5 L528.4,344.4 L528.6,347.8 L528.8,327.3 L529.1,356.8 L529.3,325.9 L529.5,342.3 L529.8,368.6 L530.0,334.7 L530.2,337.3 L530.5,364.6 L530.7,340.3 L530.9,343.2 L531.2,352.3 L531.4,365.9 L531.6,318.6 L531.9,335.7 L532.1,333.2 L532.3,332.6 L532.6,336.2 L532.8,337.1 L533.0,356.9 L533.3,336.3 L533.5,354.0 L533.7,359.1 L534.0,340.4 L534.2,355.6 L534.4,378.1 L534.6,359.1 L534.9,343.8 L535.1,353.3 L535.3,339.5 L535.6,359.3 L535.8,368.3 L536.0,341.4 L536.3,351.8 L536.5,374.0 L536.7,347.9 L537.0,359.8 L537.2,341.0 L537.4,343.3 L537.7,348.4 L537.9,384.4 L538.1,349.9 L538.4,348.7 L538.6,347.7 L538.8,353.7 L539.1,368.1 L539.3,360.5 L539.5,385.2 L539.8,360.7 L540.0,378.7 L540.2,362.7 L540.5,368.3 L540.7,336.8 L540.9,355.1 L541.2,356.1 L541.4,352.8 L541.6,329.3 L541.9,371.9 L542.1,352.2 L542.3,352.5 L542.6,356.0 L542.8,357.7 L543.0,368.0 L543.3,342.0 L543.5,346.1 L543.7,366.0 L544.0,364.4 L544.2,356.6 L544.4,354.2 L544.7,350.6 L544.9,364.1 L545.1,383.0 L545.4,348.2 L545.6,387.3 L545.8,379.0 L546.1,357.4 L546.3,377.7 L546.5,342.8 L546.8,340.7 L547.0,345.8 L547.2,359.1 L547.5,359.8 L547.7,357.0 L547.9,368.2 L548.1,337.4 L548.4,374.7 L548.6,344.8 L548.8,354.6 L549.1,358.6 L549.3,347.2 L549.5,344.0 L549.8,349.0 L550.0,365.0 L550.2,375.0 L550.5,374.6 L550.7,349.0 L550.9,352.5 L551.2,349.5 L551.4,372.0 L551.6,337.6 L551.9,383.2 L552.1,355.9 L552.3,351.8 L552.6,370.4 L552.8,380.9 L553.0,371.5 L553.3,382.0 L553.5,368.4 L553.7,383.6 L554.0,384.4 L554.2,363.9 L554.4,387.2 L554.7,369.6 L554.9,367.8 L555.1,353.5 L555.4,363.6 L555.6,380.8 L555.8,350.8 L556.1,379.6 L556.3,375.0 L556.5,374.5 L556.8,343.1 L557.0,369.0 L557.2,381.0 L557.5,360.5 L557.7,373.4 L557.9,344.7 L558.2,382.8 L558.4,362.3 L558.6,384.1 L558.9,349.6 L559.1,383.8 L559.3,370.2 L559.6,385.5 L559.8,361.0 L560.0,365.2 L560.3,399.8 L560.5,363.0 L560.7,365.6 L561.0,371.9 L561.2,362.3 L561.4,391.6 L561.6,397.3 L561.9,366.8 L562.1,355.2 L562.3,391.8 L562.6,391.4 L562.8,388.8 L563.0,393.0 L563.3,366.2 L563.5,375.5 L563.7,361.4 L564.0,361.2 L564.2,392.9 L564.4,370.5 L564.7,404.3 L564.9,380.6 L565.1,370.9 L565.4,391.7 L565.6,402.6 L565.8,388.3 L566.1,365.8 L566.3,386.4 L566.5,399.3 L566.8,375.1 L567.0,371.2 L567.2,396.0 L567.5,385.2 L567.7,369.1 L567.9,377.5 L568.2,372.9 L568.4,388.0 L568.6,385.3 L568.9,398.5 L569.1,409.0 L569.3,364.0 L569.6,388.2 L569.8,394.4 L570.0,389.4 L570.3,396.3 L570.5,376.4 L570.7,371.1 L571.0,395.1 L571.2,369.1 L571.4,360.5 L571.7,397.2 L571.9,374.7 L572.1,379.8 L572.4,367.2 L572.6,367.3 L572.8,368.9 L573.1,378.6 L573.3,389.4 L573.5,361.3 L573.8,394.5 L574.0,370.9 L574.2,371.3 L574.5,392.4 L574.7,383.2 L574.9,367.1 L575.1,404.6 L575.4,373.6 L575.6,386.7 L575.8,386.1 L576.1,399.3 L576.3,377.4 L576.5,395.4 L576.8,373.9 L577.0,395.8 L577.2,373.9 L577.5,379.0 L577.7,402.9 L577.9,387.6 L578.2,385.1 L578.4,404.8 L578.6,387.4 L578.9,372.2 L579.1,390.8 L579.3,368.1 L579.6,395.6 L579.8,396.1 L580.0,374.7 L580.3,373.6 L580.5,383.4 L580.7,381.3 L581.0,370.0 L581.2,388.4 L581.4,360.9 L581.7,375.9 L581.9,376.3 L582.1,377.3 L582.4,385.3 L582.6,368.0 L582.8,389.0 L583.1,380.4 L583.3,375.8 L583.5,368.0 L583.8,370.1 L584.0,387.7 L584.2,371.4 L584.5,382.7 L584.7,394.2 L584.9,394.0 L585.2,398.3 L585.4,378.3 L585.6,368.9 L585.9,393.6 L586.1,386.0 L586.3,395.3 L586.6,382.4 L586.8,395.3 L587.0,391.8 L587.3,389.6 L587.5,387.5 L587.7,385.9 L587.9,383.5 L588.2,383.0 L588.4,391.7 L588.6,373.3 L588.9,398.2 L589.1,378.7 L589.3,391.0 L589.6,378.2 L589.8,376.4 L590.0,400.0 L590.3,374.8 L590.5,363.5 L590.7,369.0 L591.0,373.4 L591.2,398.4 L591.4,380.3 L591.7,388.5 L591.9,365.4 L592.1,381.6 L592.4,385.3 L592.6,396.8 L592.8,369.4 L593.1,384.8 L593.3,380.6 L593.5,364.8 L593.8,377.5 L594.0,373.9 L594.2,355.6 L594.5,383.7 L594.7,382.8 L594.9,370.1 L595.2,361.6 L595.4,393.0 L595.6,380.6 L595.9,388.6 L596.1,392.8 L596.3,370.0 L596.6,386.2 L596.8,374.6 L597.0,376.2 L597.3,376.3 L597.5,378.2 L597.7,390.4 L598.0,379.7 L598.2,376.9 L598.4,375.2 L598.7,383.1 L598.9,368.4 L599.1,373.1 L599.4,377.9 L599.6,372.1 L599.8,377.7 L600.1,372.2 L600.3,397.7 L600.5,392.9 L600.8,384.0 L601.0,378.5 L601.2,397.9 L601.4,382.0 L601.7,378.0 L601.9,382.7 L602.1,381.9 L602.4,392.8 L602.6,378.9 L602.8,397.9 L603.1,369.8 L603.3,387.0 L603.5,370.0 L603.8,396.5 L604.0,376.6 L604.2,379.1 L604.5,388.7 L604.7,392.1 L604.9,368.7 L605.2,376.1 L605.4,366.7 L605.6,381.3 L605.9,379.2 L606.1,376.8 L606.3,373.3 L606.6,375.6 L606.8,372.8 L607.0,385.2 L607.3,394.2 L607.5,364.6 L607.7,379.3 L608.0,376.3 L608.2,385.7 L608.4,372.3 L608.7,380.0 L608.9,372.5 L609.1,389.3 L609.4,383.8 L609.6,380.4 L609.8,385.8 L610.1,379.4 L610.3,368.5 L610.5,387.7 L610.8,384.7 L611.0,379.9 L611.2,391.7 L611.5,393.8 L611.7,371.6 L611.9,374.5 L612.2,394.9 L612.4,393.9 L612.6,373.8 L612.9,369.6 L613.1,374.3 L613.3,375.8 L613.6,366.7 L613.8,379.8 L614.0,367.8 L614.3,368.1 L614.5,388.1 L614.7,372.1 L614.9,378.6 L615.2,385.6 L615.4,386.6 L615.6,374.3 L615.9,378.0 L616.1,369.1 L616.3,393.2 L616.6,384.9 L616.8,367.2 L617.0,378.5 L617.3,385.4 L617.5,382.4 L617.7,393.3 L618.0,390.5 L618.2,370.9 L618.4,375.8 L618.7,364.3 L618.9,380.0 L619.1,379.5 L619.4,399.1 L619.6,379.0 L619.8,359.2 L620.1,369.9 L620.3,378.6 L620.5,364.8 L620.8,368.7 L621.0,373.7" fill="none" stroke="#000" stroke-width="2" stroke-linejoin="round"/>
<rect x="111.7" y="288.7" width="167" height="42.3" fill="#fff" stroke="#111" stroke-width="1"/>
<path d="M114.4,306.9 H175" stroke="#000" stroke-width="2"/>
<text font-family="Liberation Serif, serif" font-size="26" font-weight="bold" x="181" y="316.9">Al(OH)<tspan font-size="17.5" dy="6.4" dx="0.8">3</tspan></text>
<g fill="none" stroke="#000" stroke-width="1.9">
<path d="M96,582.75 V1059.8 M91.1,1050.55 H675.25 M95.05,583.7 H675.25 M674.3,582.75 V1059.8"/>
<path d="M86.5,995.54 H96 M91.1,940.58 H96 M86.5,885.61 H96 M91.1,830.64 H96 M86.5,775.68 H96 M91.1,720.72 H96 M86.5,665.75 H96 M91.1,610.78 H96 M153.83,1050.6 V1055.4 M211.66,1050.6 V1059.8 M269.49,1050.6 V1055.4 M327.32,1050.6 V1059.8 M385.15,1050.6 V1055.4 M442.98,1050.6 V1059.8 M500.81,1050.6 V1055.4 M558.64,1050.6 V1059.8 M616.47,1050.6 V1055.4"/>
</g>
<text font-family="Liberation Sans, sans-serif" font-size="20" text-anchor="end" transform="translate(80.10,1001.84) scale(1,1.04)"  stroke="#000" stroke-width="0.3">100</text>
<text font-family="Liberation Sans, sans-serif" font-size="20" text-anchor="end" transform="translate(80.10,891.91) scale(1,1.04)"  stroke="#000" stroke-width="0.3">200</text>
<text font-family="Liberation Sans, sans-serif" font-size="20" text-anchor="end" transform="translate(80.10,781.98) scale(1,1.04)"  stroke="#000" stroke-width="0.3">300</text>
<text font-family="Liberation Sans, sans-serif" font-size="20" text-anchor="end" transform="translate(80.10,672.05) scale(1,1.04)"  stroke="#000" stroke-width="0.3">400</text>
<text font-family="Liberation Sans, sans-serif" font-size="20" text-anchor="middle" transform="translate(96.00,1081.90) scale(1,1.04)"  stroke="#000" stroke-width="0.3">10</text>
<text font-family="Liberation Sans, sans-serif" font-size="20" text-anchor="middle" transform="translate(211.66,1081.90) scale(1,1.04)"  stroke="#000" stroke-width="0.3">20</text>
<text font-family="Liberation Sans, sans-serif" font-size="20" text-anchor="middle" transform="translate(327.32,1081.90) scale(1,1.04)"  stroke="#000" stroke-width="0.3">30</text>
<text font-family="Liberation Sans, sans-serif" font-size="20" text-anchor="middle" transform="translate(442.98,1081.90) scale(1,1.04)"  stroke="#000" stroke-width="0.3">40</text>
<text font-family="Liberation Sans, sans-serif" font-size="20" text-anchor="middle" transform="translate(558.64,1081.90) scale(1,1.04)"  stroke="#000" stroke-width="0.3">50</text>
<text font-family="Liberation Sans, sans-serif" font-size="20" text-anchor="middle" transform="translate(674.30,1081.90) scale(1,1.04)"  stroke="#000" stroke-width="0.3">60</text>
<text font-family="Liberation Sans, sans-serif" font-size="34.5" text-anchor="start" transform="translate(627.30,620.20) scale(1,0.96)"  stroke="#000" stroke-width="0.3">b</text>
<text font-family="Liberation Sans, sans-serif" font-size="24.5" text-anchor="start" transform="translate(363.50,1114.50) scale(1,1.04)" font-weight="bold">2<tspan font-weight="normal" font-size="23.2" dx="-0.5" stroke="#000" stroke-width="0.5">θ</tspan></text>
<text font-family="Liberation Sans, sans-serif" font-size="24" stroke="#000" stroke-width="0.3" transform="translate(17.4,848.6) rotate(-90) scale(1,1.04)">Intensity</text>
<clipPath id="cb"><rect x="95.5" y="583.5" width="579.7" height="467.9"/></clipPath>
<g clip-path="url(#cb)" fill="none" stroke-linejoin="round">
<path d="M96.2,804.4 L104.9,820.6 L105.5,820.0 L105.8,757.8 L106.1,795.2 L106.4,787.9 L106.7,789.9 L107.0,801.6 L107.3,804.5 L107.6,805.0 L107.9,810.3 L108.2,813.1 L108.5,771.1 L108.8,786.6 L109.1,792.2 L109.4,785.3 L109.7,809.3 L110.0,805.8 L110.3,794.1 L110.7,798.4 L111.0,814.9 L111.3,791.8 L111.6,791.2 L111.9,809.5 L112.2,800.7 L112.5,812.7 L112.8,800.1 L113.1,805.0 L113.4,788.1 L113.7,783.8 L114.0,797.2 L114.3,768.0 L114.6,804.2 L114.9,812.3 L115.2,799.8 L115.5,796.5 L115.8,813.8 L116.1,799.8 L116.4,813.1 L116.7,823.8 L117.0,808.2 L117.3,812.0 L117.6,807.0 L117.9,804.6 L118.2,808.0 L118.5,805.1 L118.8,817.8 L119.1,783.5 L119.4,799.3 L119.7,811.8 L120.0,792.4 L120.3,801.6 L120.6,792.8 L121.0,807.4 L121.3,812.0 L121.6,817.2 L121.9,804.8 L122.2,787.5 L122.5,800.7 L122.8,806.5 L123.1,815.7 L123.4,774.0 L123.7,802.6 L124.0,776.3 L124.3,805.0 L124.6,802.3 L124.9,803.1 L125.2,808.4 L125.5,802.1 L125.8,787.8 L126.1,800.9 L126.4,810.8 L126.7,795.7 L127.0,797.8 L127.3,784.9 L127.6,815.3 L127.9,795.5 L128.2,792.6 L128.5,795.3 L128.8,790.0 L129.1,798.0 L129.4,818.8 L129.7,812.7 L130.0,820.2 L130.3,820.7 L130.6,792.5 L131.0,810.8 L131.3,823.0 L131.6,829.9 L131.9,789.9 L132.2,789.3 L132.5,813.5 L132.8,803.9 L133.1,796.0 L133.4,811.9 L133.7,796.0 L134.0,781.9 L134.3,805.5 L134.6,809.1 L134.9,817.1 L135.2,821.5 L135.5,809.9 L135.8,805.7 L136.1,798.9 L136.4,789.2 L136.7,803.4 L137.0,821.1 L137.3,817.5 L137.6,831.2 L137.9,806.1 L138.2,786.8 L138.5,817.2 L138.8,819.3 L139.1,794.5 L139.4,790.3 L139.7,811.9 L140.0,819.9 L140.3,798.7 L140.6,807.4 L140.9,800.1 L141.3,795.5 L141.6,795.3 L141.9,813.1 L142.2,806.7 L142.5,802.8 L142.8,783.4 L143.1,827.5 L143.4,795.7 L143.7,805.5 L144.0,795.3 L144.3,816.4 L144.6,794.1 L144.9,813.8 L145.2,809.1 L145.5,823.5 L145.8,798.1 L146.1,803.2 L146.4,807.4 L146.7,832.7 L147.0,794.2 L147.3,813.1 L147.6,801.0 L147.9,812.4 L148.2,817.5 L148.5,811.4 L148.8,813.8 L149.1,815.1 L149.4,803.6 L149.7,808.9 L150.0,791.9 L150.3,805.6 L150.6,799.7 L150.9,805.7 L151.3,817.8 L151.6,813.7 L151.9,815.4 L152.2,823.0 L152.5,785.3 L152.8,815.8 L153.1,809.7 L153.4,810.8 L153.7,797.0 L154.0,820.3 L154.3,828.2 L154.6,826.2 L154.9,813.8 L155.2,823.1 L155.5,826.2 L155.8,835.1 L156.1,829.8 L156.4,817.8 L156.7,817.8 L157.0,817.9 L157.3,819.4 L157.6,808.3 L157.9,824.7 L158.2,805.5 L158.5,805.3 L158.8,820.3 L159.1,851.6 L159.4,810.8 L159.7,791.4 L160.0,823.0 L160.3,812.5 L160.6,811.3 L160.9,817.0 L161.2,813.7 L161.6,802.8 L161.9,833.9 L162.2,806.3 L162.5,822.2 L162.8,830.9 L163.1,802.1 L163.4,810.6 L163.7,800.5 L164.0,822.6 L164.3,806.2 L164.6,797.1 L164.9,825.0 L165.2,819.9 L165.5,798.7 L165.8,824.2 L166.1,812.1 L166.4,835.5 L166.7,828.9 L167.0,804.0 L167.3,807.7 L167.6,801.0 L167.9,811.8 L168.2,811.5 L168.5,820.0 L168.8,813.3 L169.1,796.2 L169.4,803.5 L169.7,830.6 L170.0,828.3 L170.3,812.9 L170.6,812.5 L170.9,811.4 L171.2,814.3 L171.6,795.1 L171.9,825.2 L172.2,806.3 L172.5,816.1 L172.8,789.1 L173.1,817.3 L173.4,831.6 L173.7,792.4 L174.0,834.0 L174.3,822.5 L174.6,808.1 L174.9,798.5 L175.2,829.6 L175.5,819.9 L175.8,823.7 L176.1,812.5 L176.4,807.3 L176.7,828.3 L177.0,807.6 L177.3,829.8 L177.6,800.6 L177.9,807.1 L178.2,802.6 L178.5,835.9 L178.8,800.4 L179.1,805.9 L179.4,826.4 L179.7,822.5 L180.0,842.2 L180.3,838.7 L180.6,826.4 L180.9,826.4 L181.2,798.3 L181.5,807.3 L181.9,813.5 L182.2,816.4 L182.5,800.7 L182.8,806.5 L183.1,807.6 L183.4,832.2 L183.7,824.2 L184.0,813.7 L184.3,813.5 L184.6,819.6 L184.9,810.2 L185.2,816.4 L185.5,800.4 L185.8,828.0 L186.1,832.2 L186.4,826.1 L186.7,828.5 L187.0,828.1 L187.3,845.3 L187.6,825.5 L187.9,772.0 L188.2,811.3 L188.5,832.7 L188.8,834.2 L189.1,830.4 L189.4,829.0 L189.7,823.3 L190.0,805.2 L190.3,814.6 L190.6,804.9 L190.9,817.5 L191.2,805.1 L191.5,824.0 L191.8,819.7 L192.2,800.1 L192.5,830.2 L192.8,830.5 L193.1,805.9 L193.4,824.3 L193.7,859.0 L194.0,819.6 L194.3,833.2 L194.6,827.0 L194.9,838.7 L195.2,829.1 L195.5,826.0 L195.8,833.6 L196.1,838.4 L196.4,832.4 L196.7,822.7 L197.0,819.1 L197.3,824.4 L197.6,820.4 L197.9,783.3 L198.2,830.1 L198.5,825.8 L198.8,825.7 L199.1,827.4 L199.4,843.6 L199.7,839.4 L200.0,817.9 L200.3,829.0 L200.6,818.4 L200.9,823.5 L201.2,820.5 L201.5,816.2 L201.8,807.4 L202.2,796.8 L202.5,821.6 L202.8,832.8 L203.1,808.3 L203.4,827.0 L203.7,814.9 L204.0,823.3 L204.3,811.0 L204.6,817.6 L204.9,820.0 L205.2,796.2 L205.5,822.5 L205.8,819.9 L206.1,797.5 L206.4,831.2 L206.7,822.7 L207.0,823.5 L207.3,826.1 L207.6,816.6 L207.9,809.3 L208.2,817.6 L208.5,819.5 L208.8,846.7 L209.1,844.1 L209.4,816.5 L209.7,818.8 L210.0,828.4 L210.3,830.6 L210.6,817.3 L210.9,812.8 L211.2,846.3 L211.5,837.1 L211.8,806.1 L212.1,804.3 L212.5,813.3 L212.8,825.7 L213.1,829.4 L213.4,817.4 L213.7,804.2 L214.0,824.8 L214.3,830.0 L214.6,822.1 L214.9,815.9 L215.2,828.9 L215.5,820.6 L215.8,808.5 L216.1,823.1 L216.4,806.7 L216.7,832.7 L217.0,826.6 L217.3,807.7 L217.6,822.5 L217.9,834.3 L218.2,796.5 L218.5,817.0 L218.8,838.2 L219.1,802.8 L219.4,819.4 L219.7,805.4 L220.0,820.7 L220.3,797.1 L220.6,803.0 L220.9,814.9 L221.2,824.2 L221.5,828.7 L221.8,828.4 L222.1,835.3 L222.5,832.7 L222.8,833.4 L223.1,814.2 L223.4,826.5 L223.7,857.5 L224.0,853.0 L224.3,841.2 L224.6,839.5 L224.9,842.5 L225.2,824.1 L225.5,849.4 L225.8,823.4 L226.1,826.2 L226.4,851.0 L226.7,805.5 L227.0,833.0 L227.3,808.3 L227.6,818.7 L227.9,825.3 L228.2,824.0 L228.5,828.7 L228.8,817.8 L229.1,825.7 L229.4,812.3 L229.7,820.7 L230.0,809.3 L230.3,833.2 L230.6,810.7 L230.9,833.7 L231.2,820.0 L231.5,820.9 L231.8,838.7 L232.1,826.9 L232.4,804.2 L232.8,831.5 L233.1,797.7 L233.4,827.3 L233.7,818.4 L234.0,807.7 L234.3,823.0 L234.6,818.4 L234.9,841.9 L235.2,813.2 L235.5,839.8 L235.8,834.6 L236.1,811.2 L236.4,810.2 L236.7,836.6 L237.0,820.0 L237.3,825.4 L237.6,820.5 L237.9,809.8 L238.2,819.4 L238.5,811.9 L238.8,869.0 L239.1,821.4 L239.4,846.7 L239.7,845.4 L240.0,827.2 L240.3,829.8 L240.6,834.6 L240.9,844.6 L241.2,834.6 L241.5,823.9 L241.8,825.0 L242.1,843.6 L242.4,853.8 L242.8,818.3 L243.1,802.3 L243.4,834.6 L243.7,822.2 L244.0,822.2 L244.3,833.7 L244.6,816.3 L244.9,797.0 L245.2,788.9 L245.5,807.1 L245.8,790.4 L246.1,805.9 L246.4,787.3 L246.7,792.6 L247.0,785.9 L247.3,789.6 L247.6,788.5 L247.9,782.0 L248.2,814.7 L248.5,792.7 L248.8,786.3 L249.1,823.4 L249.4,806.1 L249.7,812.1 L250.0,815.6 L250.3,829.9 L250.6,830.1 L250.9,828.0 L251.2,830.9 L251.5,812.6 L251.8,817.4 L252.1,825.3 L252.4,829.0 L252.7,828.3 L253.1,832.4 L253.4,828.7 L253.7,822.5 L254.0,810.1 L254.3,839.2 L254.6,837.6 L254.9,820.7 L255.2,839.2 L255.5,837.5 L255.8,833.6 L256.1,813.6 L256.4,819.0 L256.7,823.7 L257.0,849.9 L257.3,821.4 L257.6,827.1 L257.9,818.2 L258.2,826.4 L258.5,836.5 L258.8,811.1 L259.1,807.4 L259.4,840.5 L259.7,833.8 L260.0,825.7 L260.3,844.9 L260.6,845.9 L260.9,812.6 L261.2,833.3 L261.5,847.6 L261.8,827.5 L262.1,831.1 L262.4,845.9 L262.7,832.5 L263.1,821.7 L263.4,826.0 L263.7,819.4 L264.0,840.9 L264.3,815.7 L264.6,846.6 L264.9,816.2 L265.2,835.9 L265.5,819.8 L265.8,831.1 L266.1,846.4 L266.4,848.0 L266.7,849.7 L267.0,832.6 L267.3,833.4 L267.6,836.3 L267.9,840.0 L268.2,827.2 L268.5,848.1 L268.8,837.6 L269.1,847.5 L269.4,839.2 L269.7,841.5 L270.0,825.6 L270.3,829.6 L270.6,818.8 L270.9,830.8 L271.2,831.7 L271.5,844.1 L271.8,820.4 L272.1,864.5 L272.4,833.2 L272.7,849.2 L273.0,845.5 L273.4,808.1 L273.7,829.4 L274.0,849.4 L274.3,805.5 L274.6,838.6 L274.9,816.9 L275.2,820.2 L275.5,827.9 L275.8,798.3 L276.1,820.4 L276.4,803.2 L276.7,798.7 L277.0,816.0 L277.3,836.5 L277.6,800.4 L277.9,798.1 L278.2,782.8 L278.5,766.7 L278.8,778.4 L279.1,793.7 L279.4,765.5 L279.7,774.5 L280.0,750.1 L280.3,787.9 L280.6,736.4 L280.9,734.7 L281.2,755.1 L281.5,751.9 L281.8,738.8 L282.1,737.4 L282.4,755.7 L282.7,765.7 L283.0,747.4 L283.4,755.9 L283.7,791.5 L284.0,800.6 L284.3,788.3 L284.6,788.4 L284.9,790.2 L285.2,828.2 L285.5,807.5 L285.8,798.9 L286.1,816.6 L286.4,830.7 L286.7,818.2 L287.0,790.8 L287.3,797.2 L287.6,790.8 L287.9,789.8 L288.2,789.8 L288.5,786.8 L288.8,791.2 L289.1,806.4 L289.4,805.9 L289.7,790.2 L290.0,791.4 L290.3,810.3 L290.6,831.4 L290.9,833.1 L291.2,829.9 L291.5,803.1 L291.8,826.9 L292.1,823.7 L292.4,830.8 L292.7,821.1 L293.0,831.1 L293.3,828.7 L293.7,866.0 L294.0,849.0 L294.3,837.1 L294.6,838.6 L294.9,838.5 L295.2,842.3 L295.5,834.0 L295.8,838.7 L296.1,852.7 L296.4,850.5 L296.7,844.3 L297.0,855.2 L297.3,840.8 L297.6,825.4 L297.9,818.3 L298.2,828.9 L298.5,836.6 L298.8,841.5 L299.1,849.0 L299.4,828.8 L299.7,825.6 L300.0,845.5 L300.3,851.1 L300.6,830.0 L300.9,839.8 L301.2,850.7 L301.5,839.4 L301.8,834.4 L302.1,812.2 L302.4,851.2 L302.7,842.6 L303.0,835.8 L303.3,828.4 L303.7,819.5 L304.0,833.8 L304.3,833.9 L304.6,848.5 L304.9,819.3 L305.2,851.2 L305.5,832.0 L305.8,845.5 L306.1,814.6 L306.4,830.4 L306.7,841.7 L307.0,825.7 L307.3,803.6 L307.6,815.0 L307.9,825.7 L308.2,796.7 L308.5,793.7 L308.8,814.2 L309.1,794.3 L309.4,816.3 L309.7,786.2 L310.0,774.7 L310.3,783.6 L310.6,814.2 L310.9,775.9 L311.2,787.9 L311.5,789.3 L311.8,767.6 L312.1,799.9 L312.4,783.2 L312.7,785.3 L313.0,761.7 L313.3,760.8 L313.6,759.6 L314.0,768.6 L314.3,765.8 L314.6,779.8 L314.9,791.4 L315.2,761.7 L315.5,762.0 L315.8,757.0 L316.1,794.0 L316.4,761.7 L316.7,783.9 L317.0,769.7 L317.3,768.7 L317.6,789.9 L317.9,763.2 L318.2,760.2 L318.5,785.0 L318.8,771.6 L319.1,763.4 L319.4,761.1 L319.7,765.9 L320.0,761.0 L320.3,759.2 L320.6,762.0 L320.9,746.6 L321.2,735.3 L321.5,720.8 L321.8,712.4 L322.1,715.4 L322.4,716.7 L322.7,766.3 L323.0,733.5 L323.3,762.4 L323.6,787.7 L323.9,753.9 L324.3,772.4 L324.6,786.8 L324.9,783.3 L325.2,784.5 L325.5,795.5 L325.8,823.2 L326.1,815.3 L326.4,805.3 L326.7,804.9 L327.0,780.5 L327.3,813.1 L327.6,809.1 L327.9,787.7 L328.2,808.6 L328.5,804.2 L328.8,802.9 L329.1,798.1 L329.4,802.9 L329.7,803.3 L330.0,827.1 L330.3,827.3 L330.6,829.0 L330.9,824.3 L331.2,822.6 L331.5,851.6 L331.8,810.0 L332.1,845.0 L332.4,835.7 L332.7,833.2 L333.0,827.2 L333.3,831.2 L333.6,821.5 L333.9,818.2 L334.3,833.5 L334.6,816.9 L334.9,844.9 L335.2,849.1 L335.5,811.2 L335.8,821.1 L336.1,841.5 L336.4,841.0 L336.7,840.2 L337.0,843.9 L337.3,847.6 L337.6,849.1 L337.9,859.1 L338.2,839.8 L338.5,849.7 L338.8,821.2 L339.1,837.1 L339.4,825.1 L339.7,854.5 L340.0,862.9 L340.3,845.1 L340.6,824.6 L340.9,838.6 L341.2,839.1 L341.7,772.9 L342.1,794.9 L342.4,756.3 L342.8,781.0 L343.1,752.0 L343.4,766.8 L343.8,734.5 L344.1,755.9 L344.5,714.3 L344.9,744.4 L345.2,706.6 L345.6,722.8 L345.9,694.6 L346.2,719.8 L346.6,679.1 L346.9,700.7 L347.3,670.1 L347.6,681.2 L348.0,649.3 L348.3,673.7 L348.6,641.6 L349.0,658.0 L349.5,622.0 L349.9,650.0 L350.4,607.0 L350.8,652.0 L351.2,612.0 L351.6,663.0 L352.0,618.0 L352.4,604.4 L352.8,650.0 L353.2,615.0 L353.6,671.0 L354.0,622.0 L354.5,655.0 L354.9,609.3 L355.3,650.0 L355.7,625.0 L356.2,657.0 L356.5,659.4 L356.8,688.4 L357.0,673.9 L357.3,709.7 L357.5,682.8 L357.8,715.5 L358.1,693.5 L358.3,730.1 L358.6,714.9 L358.8,748.4 L359.1,719.4 L359.3,755.8 L360.5,742.0 L361.4,735.0 L362.3,729.0 L363.2,750.0 L364.0,742.0 L364.9,758.0 L365.9,763.5 L366.8,790.0 L367.3,752.2 L367.6,770.7 L367.9,780.6 L368.2,777.2 L368.5,778.4 L368.8,772.5 L369.1,774.2 L369.4,761.8 L369.7,756.0 L370.0,796.9 L370.3,770.4 L370.6,785.7 L370.9,762.8 L371.2,787.2 L371.5,775.7 L371.8,824.3 L372.1,777.2 L372.4,778.4 L372.7,807.8 L373.0,812.8 L373.3,771.0 L373.6,802.7 L373.9,810.7 L374.2,778.7 L374.5,807.7 L374.9,791.1 L375.2,785.3 L375.5,796.8 L375.8,795.2 L376.1,784.0 L376.4,832.5 L376.7,801.4 L377.0,799.8 L377.3,825.8 L377.6,816.2 L377.9,838.3 L378.2,820.9 L378.5,834.7 L378.8,833.9 L379.1,838.3 L379.4,836.2 L379.7,840.2 L380.0,862.8 L380.3,838.9 L380.6,842.1 L380.9,845.4 L381.2,858.2 L381.5,857.2 L381.8,866.3 L382.1,843.4 L382.4,861.8 L382.7,857.8 L383.0,859.3 L383.3,864.3 L383.6,844.2 L383.9,866.5 L384.2,865.2 L384.5,848.5 L384.8,863.5 L385.2,879.6 L385.5,860.6 L385.8,872.4 L386.1,863.8 L386.4,858.3 L386.7,856.1 L387.0,862.0 L387.3,878.5 L387.6,875.7 L387.9,860.5 L388.2,877.9 L388.5,868.5 L388.8,863.3 L389.1,874.4 L389.4,862.8 L389.7,857.8 L390.0,884.8 L390.3,855.6 L390.6,878.1 L390.9,857.9 L391.2,872.6 L391.5,871.0 L391.8,868.2 L392.1,854.2 L392.4,873.0 L392.7,875.0 L393.0,867.1 L393.3,875.4 L393.6,884.9 L393.9,865.8 L394.2,875.1 L394.5,858.8 L394.8,873.1 L395.2,875.4 L395.5,888.5 L395.8,874.2 L396.1,867.7 L396.4,875.3 L396.7,848.1 L397.0,869.0 L397.3,850.6 L397.6,848.0 L397.9,866.1 L398.2,856.4 L398.5,846.0 L398.8,850.4 L399.1,856.3 L399.4,850.0 L399.7,856.0 L400.0,848.5 L400.3,876.5 L400.6,870.9 L400.9,860.2 L401.2,858.5 L401.5,864.0 L401.8,890.1 L402.1,877.1 L402.4,877.8 L402.7,889.8 L403.0,885.6 L403.3,887.6 L403.6,893.5 L403.9,889.0 L404.2,895.3 L404.5,875.6 L404.8,889.1 L405.1,886.2 L405.5,891.4 L405.8,889.2 L406.1,882.8 L406.4,887.4 L406.7,900.7 L407.0,887.5 L407.3,881.6 L407.6,901.1 L407.9,904.3 L408.2,893.0 L408.5,897.2 L408.8,886.4 L409.1,893.4 L409.4,907.0 L409.7,902.7 L410.0,897.3 L410.3,892.0 L410.6,879.3 L410.9,897.1 L411.2,898.1 L411.5,902.9 L411.8,909.9 L412.1,895.9 L412.4,899.8 L412.7,880.4 L413.0,900.8 L413.3,898.6 L413.6,902.9 L413.9,897.0 L414.2,894.6 L414.5,903.4 L414.8,883.3 L415.1,894.7 L415.5,898.7 L415.8,882.7 L416.1,879.1 L416.4,895.9 L416.7,892.1 L417.0,896.8 L417.3,896.7 L417.6,883.7 L417.9,894.9 L418.2,904.0 L418.5,888.5 L418.8,888.7 L419.1,881.9 L419.4,900.4 L419.7,907.3 L420.0,877.7 L420.3,898.5 L420.6,901.1 L420.9,887.0 L421.2,888.4 L421.5,881.5 L421.8,883.5 L422.1,892.9 L422.4,897.3 L422.7,893.0 L423.0,900.8 L423.3,895.5 L423.6,880.4 L423.9,907.5 L424.2,904.9 L424.5,887.7 L424.8,910.3 L425.1,898.7 L425.4,895.0 L425.8,911.4 L426.1,872.7 L426.4,877.7 L426.7,898.9 L427.0,887.1 L427.3,879.6 L427.6,903.2 L427.9,893.2 L428.2,876.3 L428.5,880.6 L428.8,896.5 L429.1,903.8 L429.4,868.0 L429.7,888.8 L430.0,880.4 L430.3,867.6 L430.6,882.2 L430.9,867.6 L431.2,876.6 L431.5,896.9 L431.8,886.4 L432.1,889.0 L432.4,885.6 L432.7,882.3 L433.0,889.7 L433.3,866.8 L433.6,874.2 L433.9,887.3 L434.2,867.2 L434.5,870.2 L434.8,887.4 L435.1,889.5 L435.4,863.6 L435.8,858.5 L436.1,872.4 L436.4,867.6 L436.7,853.5 L437.0,868.9 L437.3,866.9 L437.6,859.9 L437.9,888.2 L438.2,875.2 L438.5,868.6 L438.8,843.4 L439.1,884.6 L439.4,868.7 L439.7,847.6 L440.0,858.3 L440.3,855.2 L440.6,847.4 L440.9,858.2 L441.2,858.9 L441.5,856.8 L441.8,853.5 L442.1,871.6 L442.4,846.1 L442.7,870.4 L443.0,861.0 L443.3,864.9 L443.6,848.2 L443.9,880.8 L444.2,843.4 L444.5,852.4 L444.8,872.1 L445.1,857.5 L445.4,861.2 L445.7,844.9 L446.1,864.0 L446.4,872.4 L446.7,878.9 L447.0,869.5 L447.3,876.1 L447.6,878.7 L447.9,866.1 L448.2,867.1 L448.5,899.0 L448.8,870.5 L449.1,894.3 L449.4,884.6 L449.7,899.0 L450.0,877.3 L450.3,892.6 L450.6,893.6 L450.9,888.0 L451.2,895.0 L451.5,883.4 L451.8,891.7 L452.1,888.8 L452.4,902.3 L452.7,893.5 L453.0,881.1 L453.3,892.6 L453.6,897.6 L453.9,890.1 L454.2,913.8 L454.5,905.0 L454.8,909.6 L455.1,893.9 L455.4,897.1 L455.7,913.2 L456.1,889.1 L456.4,906.7 L456.7,903.1 L457.0,896.7 L457.3,902.5 L457.6,892.2 L457.9,905.6 L458.2,890.4 L458.5,890.6 L458.8,917.0 L459.1,921.0 L459.4,881.5 L459.7,908.6 L460.0,889.7 L460.3,872.2 L460.6,897.8 L460.9,907.6 L461.2,901.3 L461.5,913.0 L461.8,894.5 L462.1,901.2 L462.4,884.5 L462.7,896.1 L463.0,909.0 L463.3,900.5 L463.6,895.4 L463.9,874.4 L464.2,889.2 L464.5,880.8 L464.8,902.1 L465.1,886.2 L465.4,897.7 L465.7,885.4 L466.0,912.8 L466.4,884.0 L466.7,896.7 L467.0,917.4 L467.3,897.8 L467.6,885.4 L467.9,901.2 L468.2,907.2 L468.5,905.3 L468.8,877.9 L469.1,898.9 L469.4,876.8 L469.7,914.5 L470.0,898.4 L470.3,893.8 L470.6,905.3 L470.9,903.4 L471.2,886.3 L471.5,913.9 L471.8,893.3 L472.1,879.8 L472.4,908.9 L472.7,911.0 L473.0,908.8 L473.3,901.8 L473.6,886.6 L473.9,906.3 L474.2,912.6 L474.5,904.6 L474.8,910.7 L475.1,886.6 L475.4,905.7 L475.7,904.6 L476.0,878.9 L476.3,875.2 L476.7,882.6 L477.0,891.0 L477.3,895.4 L477.6,889.5 L477.9,893.8 L478.2,894.0 L478.5,897.7 L478.8,903.4 L479.1,901.9 L479.4,895.7 L479.7,901.5 L480.0,892.9 L480.3,906.3 L480.6,891.2 L480.9,914.3 L481.2,897.9 L481.5,901.8 L481.8,890.3 L482.1,894.4 L482.4,901.4 L482.7,901.0 L483.0,893.6 L483.3,887.8 L483.6,899.4 L483.9,899.8 L484.2,903.4 L484.5,910.2 L484.8,892.9 L485.1,877.0 L485.4,895.2 L485.7,876.9 L486.0,881.3 L486.3,905.7 L486.7,901.3 L487.0,887.0 L487.3,888.2 L487.6,892.7 L487.9,876.3 L488.2,900.2 L488.5,890.2 L488.8,912.0 L489.1,883.3 L489.4,905.4 L489.7,888.3 L490.0,905.3 L490.3,884.1 L490.6,902.5 L490.9,888.6 L491.2,884.2 L491.5,890.9 L491.8,897.9 L492.1,898.2 L492.4,908.8 L492.7,902.7 L493.0,871.0 L493.3,889.9 L493.6,875.5 L493.9,889.3 L494.2,900.0 L494.5,879.4 L494.8,881.0 L495.1,895.4 L495.4,891.2 L495.7,909.9 L496.0,897.5 L496.3,900.4 L496.6,911.3 L497.0,889.2 L497.3,896.2 L497.6,885.3 L497.9,899.8 L498.2,909.0 L498.5,913.1 L498.8,898.4 L499.1,890.4 L499.4,889.2 L499.7,884.1 L500.0,901.8 L500.3,914.9 L500.6,879.4 L500.9,929.0 L501.2,916.8 L501.5,884.8 L501.8,905.3 L502.1,889.7 L502.4,911.5 L502.7,912.5 L503.0,905.3 L503.3,911.5 L503.6,903.7 L503.9,910.5 L504.2,921.0 L504.5,916.0 L504.8,895.8 L505.1,894.7 L505.4,900.2 L505.7,899.8 L506.0,902.6 L506.3,895.3 L506.6,909.1 L507.0,901.2 L507.3,903.9 L507.6,900.2 L507.9,905.9 L508.2,884.4 L508.5,912.2 L508.8,900.2 L509.1,902.4 L509.4,904.1 L509.7,908.2 L510.0,903.8 L510.3,897.7 L510.6,891.6 L510.9,877.2 L511.2,895.9 L511.5,890.2 L511.8,889.5 L512.1,916.0 L512.4,874.6 L512.7,893.5 L513.0,905.5 L513.3,902.9 L513.6,905.6 L513.9,878.9 L514.2,882.5 L514.5,900.6 L514.8,888.2 L515.1,906.2 L515.4,891.9 L515.7,890.7 L516.0,893.7 L516.3,884.8 L516.6,888.2 L516.9,877.6 L517.3,883.7 L517.6,877.0 L517.9,884.3 L518.2,862.6 L518.5,861.0 L518.8,881.7 L519.1,878.5 L519.4,861.0 L519.7,867.9 L520.0,853.9 L520.3,886.2 L520.6,842.0 L520.9,881.7 L521.2,848.9 L521.5,862.1 L521.8,850.3 L522.1,845.7 L522.4,862.9 L522.7,860.7 L523.0,843.0 L523.3,831.0 L523.6,872.0 L523.9,866.8 L524.2,851.3 L524.5,845.4 L524.8,856.2 L525.1,854.0 L525.4,871.1 L525.7,845.5 L526.0,862.5 L526.3,855.7 L526.6,881.9 L526.9,887.2 L527.3,867.8 L527.6,878.2 L527.9,888.7 L528.2,869.7 L528.5,864.5 L528.8,888.3 L529.1,883.6 L529.4,876.5 L529.7,896.7 L530.0,885.2 L530.3,864.8 L530.6,888.5 L530.9,884.3 L531.2,903.6 L531.5,885.0 L531.8,882.0 L532.1,889.6 L532.4,887.2 L532.7,870.5 L533.0,887.5 L533.3,881.9 L533.6,899.8 L533.9,906.2 L534.2,872.8 L534.5,872.2 L534.8,873.9 L535.1,875.5 L535.4,873.9 L535.7,880.8 L536.0,891.9 L536.3,865.6 L536.6,864.0 L536.9,861.5 L537.2,891.5 L537.6,894.1 L537.9,865.3 L538.2,864.2 L538.5,881.7 L538.8,891.3 L539.1,889.3 L539.4,880.5 L539.7,886.7 L540.0,884.2 L540.3,875.9 L540.6,901.7 L540.9,884.3 L541.2,873.2 L541.5,882.6 L541.8,873.7 L542.1,891.0 L542.4,902.8 L542.7,877.6 L543.0,903.6 L543.3,911.4 L543.6,896.5 L543.9,878.9 L544.2,882.5 L544.5,889.0 L544.8,880.0 L545.1,881.0 L545.4,890.4 L545.7,891.6 L546.0,900.1 L546.3,879.0 L546.6,908.4 L546.9,901.2 L547.2,899.3 L547.6,879.6 L547.9,903.8 L548.2,882.1 L548.5,902.6 L548.8,895.2 L549.1,873.5 L549.4,879.4 L549.7,902.5 L550.0,896.6 L550.3,882.7 L550.6,886.5 L550.9,884.5 L551.2,874.1 L551.5,881.0 L551.8,872.6 L552.1,871.4 L552.4,880.9 L552.7,861.5 L553.0,878.5 L553.3,867.5 L553.6,873.8 L553.9,870.0 L554.2,868.1 L554.5,857.1 L554.8,855.7 L555.1,843.6 L555.4,851.4 L555.7,847.6 L556.0,846.9 L556.3,862.6 L556.6,856.1 L556.9,868.7 L557.2,853.0 L557.5,885.4 L557.9,867.7 L558.2,883.9 L558.5,880.9 L558.8,893.2 L559.1,879.8 L559.4,874.0 L559.7,864.6 L560.0,882.1 L560.3,874.1 L560.6,893.4 L560.9,902.8 L561.2,868.3 L561.5,875.8 L561.8,892.7 L562.1,902.5 L562.4,892.7 L562.7,893.1 L563.0,894.1 L563.3,896.3 L563.6,904.8 L563.9,895.4 L564.2,875.9 L564.5,884.8 L564.8,891.4 L565.1,880.1 L565.4,886.2 L565.7,885.0 L566.0,880.9 L566.3,895.3 L566.6,883.5 L566.9,877.6 L567.2,881.9 L567.5,890.4 L567.9,908.8 L568.2,894.0 L568.5,906.9 L568.8,898.9 L569.1,875.7 L569.4,897.5 L569.7,885.5 L570.0,882.3 L570.3,884.8 L570.6,910.7 L570.9,881.4 L571.2,891.7 L571.5,909.7 L571.8,904.8 L572.1,883.8 L572.4,901.8 L572.7,898.0 L573.0,900.2 L573.3,909.7 L573.6,895.4 L573.9,897.6 L574.2,914.0 L574.5,884.2 L574.8,898.1 L575.1,907.8 L575.4,892.3 L575.7,898.4 L576.0,892.9 L576.3,907.3 L576.6,899.9 L576.9,913.1 L577.2,916.0 L577.5,907.6 L577.8,903.7 L578.2,909.8 L578.5,906.4 L578.8,895.1 L579.1,918.7 L579.4,911.7 L579.7,918.2 L580.0,897.8 L580.3,919.9 L580.6,927.2 L580.9,916.9 L581.2,897.7 L581.5,911.7 L581.8,912.1 L582.1,915.7 L582.4,912.4 L582.7,919.1 L583.0,910.5 L583.3,915.3 L583.6,905.4 L583.9,912.9 L584.2,921.6 L584.5,908.0 L584.8,918.8 L585.1,903.4 L585.4,908.6 L585.7,909.8 L586.0,924.5 L586.3,904.8 L586.6,924.2 L586.9,899.6 L587.2,910.8 L587.5,919.6 L587.8,917.1 L588.2,900.1 L588.5,897.3 L588.8,918.4 L589.1,898.5 L589.4,917.0 L589.7,907.0 L590.0,914.3 L590.3,931.7 L590.6,926.8 L590.9,922.3 L591.2,901.7 L591.5,916.9 L591.8,912.6 L592.1,911.0 L592.4,924.8 L592.7,896.4 L593.0,914.1 L593.3,910.8 L593.6,901.7 L593.9,922.2 L594.2,892.0 L594.5,903.3 L594.8,900.8 L595.1,888.8 L595.4,889.9 L595.7,888.6 L596.0,902.2 L596.3,887.0 L596.6,900.0 L596.9,896.7 L597.2,890.1 L597.5,899.5 L597.8,895.5 L598.1,914.7 L598.5,919.5 L598.8,927.8 L599.1,919.0 L599.4,922.3 L599.7,906.8 L600.0,921.0 L600.3,912.5 L600.6,933.9 L600.9,918.1 L601.2,927.8 L601.5,922.4 L601.8,928.2 L602.1,939.3 L602.4,931.2 L602.7,940.4 L603.0,930.7 L603.3,951.3 L603.6,935.0 L603.9,949.7 L604.2,956.8 L604.5,922.4 L604.8,933.7 L605.1,940.2 L605.4,952.8 L605.7,939.7 L606.0,946.7 L606.3,937.2 L606.6,948.7 L606.9,932.8 L607.2,950.6 L607.5,923.7 L607.8,928.1 L608.1,956.9 L608.4,944.9 L608.8,933.8 L609.1,957.0 L609.4,949.6 L609.7,949.9 L610.0,937.5 L610.3,946.5 L610.6,945.6 L610.9,926.6 L611.2,946.3 L611.5,940.1 L611.8,950.9 L612.1,951.4 L612.4,934.0 L612.7,933.7 L613.0,941.2 L613.3,944.5 L613.6,933.9 L613.9,935.2 L614.2,941.1 L614.5,940.0 L614.8,946.3 L615.1,937.7 L615.4,926.9 L615.7,920.3 L616.0,940.5 L616.3,930.2 L616.6,929.2 L616.9,928.5 L617.2,916.1 L617.5,924.3 L617.8,909.8 L618.1,922.3 L618.4,919.0 L618.8,941.8 L619.1,931.9 L619.4,926.8 L619.7,931.0 L620.0,937.1 L620.3,923.5 L620.6,928.1 L620.9,927.5 L621.2,947.3 L621.5,932.7 L621.8,918.3 L622.1,940.4 L622.4,951.4 L622.7,926.4 L623.0,954.6 L623.3,933.9 L623.6,943.7 L623.9,930.8 L624.2,935.4 L624.5,925.8 L624.8,926.1 L625.1,919.6 L625.4,944.9 L625.7,925.7 L626.0,937.4 L626.3,937.8 L626.6,928.2 L626.9,934.0 L627.2,933.7 L627.5,928.7 L627.8,933.2 L628.1,932.9 L628.4,922.7 L628.7,921.8 L629.1,925.5 L629.4,934.7 L629.7,943.4 L630.0,944.0 L630.3,935.8 L630.6,942.0 L630.9,935.4 L631.2,943.3 L631.5,936.2 L631.8,938.3 L632.1,933.9 L632.4,936.8 L632.7,950.9 L633.0,925.1 L633.3,935.5 L633.6,931.9 L633.9,944.2 L634.2,951.8 L634.5,935.1 L634.8,917.6 L635.1,942.1 L635.4,943.3 L635.7,925.4 L636.0,936.8 L636.3,938.1 L636.6,921.3 L636.9,944.3 L637.2,941.0 L637.5,937.8 L637.8,927.1 L638.1,928.6 L638.4,928.4 L638.7,937.9 L639.1,926.8 L639.4,947.5 L639.7,938.7 L640.0,920.0 L640.3,948.0 L640.6,935.9 L640.9,929.1 L641.2,934.4 L641.5,918.4 L641.8,932.7 L642.1,914.9 L642.4,921.3 L642.7,941.9 L643.0,941.5 L643.3,928.6 L643.6,925.5 L643.9,941.8 L644.2,933.3 L644.5,937.1 L644.8,940.3 L645.1,924.4 L645.4,939.4 L645.7,915.8 L646.0,942.8 L646.3,918.3 L646.6,924.8 L646.9,925.7 L647.2,939.7 L647.5,939.9 L647.8,937.7 L648.1,938.7 L648.4,940.0 L648.7,934.5 L649.0,919.5 L649.4,917.1 L649.7,916.2 L650.0,933.0 L650.3,930.6 L650.6,928.9 L650.9,932.1 L651.2,928.0 L651.5,922.6 L651.8,919.8 L652.1,918.8 L652.4,944.0 L652.7,942.9 L653.0,924.6 L653.3,931.5 L653.6,937.6 L653.9,946.6 L654.2,928.9 L654.5,934.2 L654.8,943.5 L655.1,921.5 L655.4,929.2 L655.7,934.9 L656.0,928.3 L656.3,951.6 L656.6,945.9 L656.9,940.6 L657.2,932.4 L657.5,948.6 L657.8,947.3 L658.1,934.8 L658.4,933.9 L658.7,926.4 L659.0,936.7 L659.4,945.1 L659.7,946.7 L660.0,942.6 L660.3,944.0 L660.6,932.4 L660.9,932.6 L661.2,946.7 L661.5,940.4 L661.8,930.3 L662.1,940.6 L662.4,945.0 L662.7,942.8 L663.0,938.7 L663.3,933.2 L663.6,940.9 L663.9,950.6 L664.2,940.2 L664.5,933.2 L664.8,942.0 L665.1,930.1 L665.4,942.6 L665.7,937.5 L666.0,948.9 L666.3,942.3 L666.6,951.0 L666.9,959.6 L667.2,941.8 L667.5,937.8 L667.8,947.1 L668.1,945.4 L668.4,946.0 L668.7,941.1 L669.0,950.8 L669.3,946.0 L669.7,930.0 L670.0,944.2 L670.3,950.5 L670.6,959.0 L670.9,945.4 L671.2,942.7 L671.5,960.0 L671.8,946.2 L672.1,953.8 L672.4,957.0 L672.7,959.8 L673.0,954.2 L673.3,943.2 L673.6,962.3 L673.9,951.6 L674.2,949.3 L674.5,967.3" stroke="#505050" stroke-width="2"/>
<path d="M96.2,924.4 L104.9,938.8 L105.5,883.5 L105.8,915.5 L106.1,875.8 L106.4,923.5 L106.7,936.8 L107.0,924.5 L107.3,897.7 L107.6,888.0 L107.9,906.9 L108.2,886.2 L108.5,914.4 L108.8,895.5 L109.1,920.4 L109.4,926.3 L109.7,878.1 L110.0,910.4 L110.3,895.3 L110.7,884.9 L111.0,895.1 L111.3,901.4 L111.6,921.1 L111.9,881.8 L112.2,920.2 L112.5,929.8 L112.8,912.9 L113.1,872.3 L113.4,906.5 L113.7,889.6 L114.0,916.3 L114.3,915.1 L114.6,918.4 L114.9,938.1 L115.2,920.3 L115.5,914.6 L115.8,930.6 L116.1,890.0 L116.4,892.2 L116.7,903.3 L117.0,900.0 L117.3,921.8 L117.6,907.0 L117.9,935.4 L118.2,933.3 L118.5,923.7 L118.8,905.6 L119.1,920.2 L119.4,924.6 L119.7,897.6 L120.0,918.1 L120.3,923.5 L120.6,918.0 L121.0,936.1 L121.3,932.2 L121.6,903.9 L121.9,918.3 L122.2,904.8 L122.5,925.6 L122.8,904.7 L123.1,930.8 L123.4,921.6 L123.7,928.1 L124.0,913.7 L124.3,894.3 L124.6,938.1 L124.9,912.6 L125.2,933.5 L125.5,920.6 L125.8,924.1 L126.1,936.5 L126.4,918.3 L126.7,931.2 L127.0,893.9 L127.3,924.9 L127.6,910.9 L127.9,912.1 L128.2,913.8 L128.5,917.5 L128.8,934.8 L129.1,891.2 L129.4,915.9 L129.7,907.0 L130.0,933.5 L130.3,913.1 L130.6,925.6 L131.0,914.1 L131.3,927.9 L131.6,932.3 L131.9,912.2 L132.2,919.4 L132.5,899.9 L132.8,923.0 L133.1,929.2 L133.4,908.7 L133.7,931.1 L134.0,891.8 L134.3,894.7 L134.6,900.9 L134.9,912.2 L135.2,919.0 L135.5,918.2 L135.8,919.2 L136.1,927.7 L136.4,910.8 L136.7,900.4 L137.0,901.4 L137.3,943.8 L137.6,892.8 L137.9,918.2 L138.2,939.2 L138.5,926.5 L138.8,908.5 L139.1,920.0 L139.4,932.7 L139.7,936.4 L140.0,908.7 L140.3,931.4 L140.6,923.9 L140.9,934.9 L141.3,937.5 L141.6,914.8 L141.9,901.1 L142.2,927.4 L142.5,944.9 L142.8,931.7 L143.1,925.0 L143.4,951.5 L143.7,909.3 L144.0,936.3 L144.3,917.3 L144.6,926.2 L144.9,926.1 L145.2,944.6 L145.5,912.7 L145.8,918.4 L146.1,904.3 L146.4,931.8 L146.7,919.2 L147.0,932.2 L147.3,912.5 L147.6,922.4 L147.9,939.9 L148.2,924.8 L148.5,935.1 L148.8,934.0 L149.1,921.9 L149.4,905.7 L149.7,938.5 L150.0,926.8 L150.3,935.9 L150.6,899.4 L150.9,904.4 L151.3,900.3 L151.6,912.8 L151.9,938.9 L152.2,934.4 L152.5,925.5 L152.8,926.9 L153.1,934.5 L153.4,919.4 L153.7,928.5 L154.0,925.5 L154.3,897.9 L154.6,918.1 L154.9,941.8 L155.2,918.5 L155.5,921.6 L155.8,917.0 L156.1,919.1 L156.4,942.4 L156.7,924.0 L157.0,912.2 L157.3,895.4 L157.6,918.0 L157.9,901.0 L158.2,900.4 L158.5,933.9 L158.8,933.3 L159.1,900.6 L159.4,937.2 L159.7,933.0 L160.0,915.7 L160.3,936.8 L160.6,907.4 L160.9,910.9 L161.2,910.2 L161.6,913.3 L161.9,939.5 L162.2,909.0 L162.5,910.6 L162.8,912.4 L163.1,929.3 L163.4,923.3 L163.7,939.6 L164.0,920.0 L164.3,914.6 L164.6,923.4 L164.9,932.1 L165.2,919.8 L165.5,935.1 L165.8,952.3 L166.1,922.8 L166.4,930.5 L166.7,945.9 L167.0,920.2 L167.3,916.1 L167.6,913.9 L167.9,933.3 L168.2,935.4 L168.5,925.8 L168.8,929.6 L169.1,945.8 L169.4,940.4 L169.7,910.4 L170.0,928.4 L170.3,928.0 L170.6,935.0 L170.9,921.5 L171.2,915.0 L171.6,916.7 L171.9,900.9 L172.2,922.5 L172.5,914.0 L172.8,929.5 L173.1,909.8 L173.4,916.2 L173.7,908.3 L174.0,908.7 L174.3,933.1 L174.6,918.5 L174.9,889.7 L175.2,912.1 L175.5,928.3 L175.8,907.1 L176.1,921.2 L176.4,921.8 L176.7,938.3 L177.0,934.5 L177.3,929.6 L177.6,944.3 L177.9,937.1 L178.2,941.6 L178.5,945.0 L178.8,933.5 L179.1,930.6 L179.4,939.4 L179.7,930.5 L180.0,941.0 L180.3,949.7 L180.6,946.7 L180.9,928.1 L181.2,917.3 L181.5,932.3 L181.9,931.9 L182.2,948.2 L182.5,929.2 L182.8,931.6 L183.1,942.3 L183.4,926.8 L183.7,931.1 L184.0,954.4 L184.3,952.9 L184.6,943.2 L184.9,938.6 L185.2,921.5 L185.5,940.9 L185.8,933.5 L186.1,935.6 L186.4,924.9 L186.7,929.9 L187.0,928.8 L187.3,934.7 L187.6,947.6 L187.9,936.0 L188.2,911.4 L188.5,918.2 L188.8,913.0 L189.1,921.7 L189.4,941.6 L189.7,938.2 L190.0,923.3 L190.3,934.0 L190.6,920.3 L190.9,913.8 L191.2,914.0 L191.5,921.3 L191.8,951.2 L192.2,917.7 L192.5,952.1 L192.8,954.7 L193.1,936.7 L193.4,938.8 L193.7,932.8 L194.0,939.5 L194.3,948.3 L194.6,939.7 L194.9,951.7 L195.2,954.1 L195.5,941.5 L195.8,942.1 L196.1,936.7 L196.4,942.6 L196.7,923.2 L197.0,943.3 L197.3,943.1 L197.6,930.6 L197.9,965.7 L198.2,928.2 L198.5,929.6 L198.8,944.5 L199.1,917.6 L199.4,929.1 L199.7,921.8 L200.0,926.6 L200.3,937.5 L200.6,942.6 L200.9,952.4 L201.2,949.7 L201.5,954.7 L201.8,947.6 L202.2,935.3 L202.5,955.6 L202.8,937.0 L203.1,932.1 L203.4,958.1 L203.7,949.3 L204.0,941.0 L204.3,947.4 L204.6,948.8 L204.9,919.8 L205.2,934.3 L205.5,921.9 L205.8,937.3 L206.1,927.8 L206.4,952.9 L206.7,944.4 L207.0,928.4 L207.3,938.5 L207.6,922.5 L207.9,939.0 L208.2,945.2 L208.5,940.9 L208.8,915.8 L209.1,933.6 L209.4,945.9 L209.7,942.4 L210.0,955.4 L210.3,925.9 L210.6,947.1 L210.9,932.5 L211.2,944.4 L211.5,947.2 L211.8,952.0 L212.1,934.4 L212.5,945.5 L212.8,928.8 L213.1,925.4 L213.4,948.9 L213.7,941.8 L214.0,923.6 L214.3,932.3 L214.6,943.6 L214.9,960.3 L215.2,957.1 L215.5,951.6 L215.8,921.3 L216.1,938.8 L216.4,945.2 L216.7,945.2 L217.0,945.4 L217.3,937.6 L217.6,962.8 L217.9,959.3 L218.2,941.4 L218.5,930.7 L218.8,965.5 L219.1,934.6 L219.4,958.9 L219.7,966.4 L220.0,931.9 L220.3,947.1 L220.6,939.3 L220.9,951.4 L221.2,948.6 L221.5,969.0 L221.8,954.2 L222.1,946.1 L222.5,962.0 L222.8,943.0 L223.1,941.7 L223.4,971.0 L223.7,936.2 L224.0,940.9 L224.3,946.5 L224.6,932.6 L224.9,921.9 L225.2,958.5 L225.5,935.1 L225.8,939.1 L226.1,940.4 L226.4,932.1 L226.7,932.0 L227.0,948.1 L227.3,970.7 L227.6,954.2 L227.9,954.4 L228.2,926.6 L228.5,944.8 L228.8,931.4 L229.1,955.9 L229.4,985.2 L229.7,943.2 L230.0,940.8 L230.3,935.8 L230.6,924.8 L230.9,953.1 L231.2,929.2 L231.5,929.8 L231.8,938.5 L232.1,933.6 L232.4,948.1 L232.8,959.2 L233.1,948.7 L233.4,947.7 L233.7,945.4 L234.0,957.0 L234.3,926.1 L234.6,951.2 L234.9,933.9 L235.2,931.1 L235.5,948.0 L235.8,943.9 L236.1,957.1 L236.4,962.7 L236.7,925.1 L237.0,948.4 L237.3,972.3 L237.6,961.2 L237.9,969.4 L238.2,954.6 L238.5,935.1 L238.8,935.0 L239.1,959.5 L239.4,963.5 L239.7,942.3 L240.0,947.8 L240.3,954.8 L240.6,930.9 L240.9,946.7 L241.2,970.1 L241.5,973.7 L241.8,946.4 L242.1,970.0 L242.4,940.8 L242.8,936.6 L243.1,921.5 L243.4,958.3 L243.7,941.0 L244.0,970.6 L244.3,948.4 L244.6,946.1 L244.9,921.5 L245.2,961.7 L245.5,936.1 L245.8,937.8 L246.1,913.3 L246.4,951.4 L246.7,950.8 L247.0,925.5 L247.3,935.1 L247.6,938.5 L247.9,946.3 L248.2,931.6 L248.5,954.0 L248.8,905.0 L249.1,921.8 L249.4,925.1 L249.7,907.2 L250.0,924.2 L250.3,953.1 L250.6,943.9 L250.9,930.7 L251.2,947.3 L251.5,920.6 L251.8,941.0 L252.1,952.6 L252.4,954.3 L252.7,935.5 L253.1,960.3 L253.4,970.3 L253.7,943.0 L254.0,958.9 L254.3,930.3 L254.6,927.8 L254.9,959.2 L255.2,950.9 L255.5,951.6 L255.8,941.9 L256.1,945.4 L256.4,958.6 L256.7,969.2 L257.0,946.7 L257.3,930.8 L257.6,964.3 L257.9,956.6 L258.2,958.8 L258.5,954.7 L258.8,976.7 L259.1,953.0 L259.4,959.5 L259.7,932.4 L260.0,945.6 L260.3,945.9 L260.6,955.6 L260.9,959.4 L261.2,946.3 L261.5,976.5 L261.8,942.8 L262.1,951.1 L262.4,960.9 L262.7,941.7 L263.1,963.9 L263.4,965.6 L263.7,953.0 L264.0,978.8 L264.3,957.3 L264.6,959.0 L264.9,944.1 L265.2,937.4 L265.5,948.0 L265.8,951.6 L266.1,950.8 L266.4,965.7 L266.7,929.4 L267.0,939.7 L267.3,933.4 L267.6,970.9 L267.9,947.4 L268.2,947.2 L268.5,939.4 L268.8,964.9 L269.1,947.3 L269.4,955.7 L269.7,931.3 L270.0,969.0 L270.3,958.7 L270.6,960.1 L270.9,967.1 L271.2,948.2 L271.5,947.2 L271.8,959.4 L272.1,954.9 L272.4,945.3 L272.7,949.4 L273.0,940.3 L273.4,954.9 L273.7,955.0 L274.0,940.4 L274.3,962.0 L274.6,915.4 L274.9,930.7 L275.2,955.2 L275.5,921.3 L275.8,900.9 L276.1,937.7 L276.4,921.3 L276.7,889.9 L277.0,916.7 L277.3,879.0 L277.6,867.9 L277.9,881.1 L278.2,867.4 L278.5,849.4 L278.8,854.5 L279.1,837.6 L279.4,854.9 L279.7,850.3 L280.0,864.2 L280.3,828.5 L280.6,833.6 L280.9,832.4 L281.2,846.2 L281.5,884.9 L281.8,878.3 L282.1,856.0 L282.4,892.8 L282.7,859.4 L283.0,905.5 L283.4,884.8 L283.7,911.7 L284.0,913.9 L284.3,903.0 L284.6,918.6 L284.9,912.9 L285.2,922.0 L285.5,942.5 L285.8,966.7 L286.1,940.1 L286.4,932.0 L286.7,918.9 L287.0,948.1 L287.3,914.5 L287.6,918.6 L287.9,934.9 L288.2,915.0 L288.5,948.3 L288.8,940.0 L289.1,913.9 L289.4,915.3 L289.7,910.0 L290.0,914.7 L290.3,933.2 L290.6,937.4 L290.9,937.8 L291.2,940.5 L291.5,932.0 L291.8,948.7 L292.1,928.1 L292.4,950.5 L292.7,970.2 L293.0,970.6 L293.3,948.6 L293.7,950.9 L294.0,973.4 L294.3,979.0 L294.6,940.0 L294.9,955.0 L295.2,966.3 L295.5,977.9 L295.8,952.2 L296.1,972.3 L296.4,960.2 L296.7,989.8 L297.0,969.6 L297.3,961.8 L297.6,958.7 L297.9,976.2 L298.2,972.0 L298.5,949.1 L298.8,965.7 L299.1,946.6 L299.4,953.7 L299.7,948.4 L300.0,946.7 L300.3,953.1 L300.6,950.8 L300.9,968.5 L301.2,968.6 L301.5,956.8 L301.8,945.4 L302.1,968.2 L302.4,934.7 L302.7,935.8 L303.0,967.3 L303.3,966.1 L303.7,969.3 L304.0,952.8 L304.3,937.6 L304.6,945.0 L304.9,958.9 L305.2,939.8 L305.5,938.7 L305.8,928.4 L306.1,930.9 L306.4,954.9 L306.7,945.5 L307.0,921.1 L307.3,921.4 L307.6,925.1 L307.9,938.2 L308.2,913.5 L308.5,924.7 L308.8,897.8 L309.1,904.0 L309.4,926.1 L309.7,931.0 L310.0,896.2 L310.3,901.0 L310.6,925.7 L310.9,903.7 L311.2,899.0 L311.5,914.9 L311.8,908.2 L312.1,921.0 L312.4,914.7 L312.7,890.1 L313.0,896.2 L313.3,895.1 L313.6,872.9 L314.0,880.1 L314.3,862.0 L314.6,871.2 L314.9,913.1 L315.2,901.3 L315.5,894.9 L315.8,908.3 L316.1,909.1 L316.4,921.4 L316.7,893.6 L317.0,897.8 L317.3,897.1 L317.6,931.0 L317.9,919.6 L318.2,888.1 L318.5,900.0 L318.8,892.3 L319.1,903.9 L319.4,904.7 L319.7,930.8 L320.0,862.7 L320.3,904.0 L320.6,886.9 L320.9,858.5 L321.2,861.5 L321.5,847.6 L321.8,851.7 L322.1,867.8 L322.4,840.9 L322.7,876.7 L323.0,851.3 L323.3,893.4 L323.6,883.4 L323.9,904.3 L324.3,901.7 L324.6,915.8 L324.9,908.6 L325.2,898.9 L325.5,929.4 L325.8,933.1 L326.1,952.3 L326.4,897.1 L326.7,923.0 L327.0,943.6 L327.3,908.6 L327.6,924.1 L327.9,957.2 L328.2,950.6 L328.5,919.6 L328.8,956.6 L329.1,954.3 L329.4,953.3 L329.7,951.1 L330.0,953.2 L330.3,941.4 L330.6,949.0 L330.9,965.5 L331.2,958.2 L331.5,977.4 L331.8,952.0 L332.1,931.8 L332.4,953.2 L332.7,960.2 L333.0,961.5 L333.3,958.2 L333.6,946.5 L333.9,975.2 L334.3,949.6 L334.6,966.9 L334.9,956.0 L335.2,944.5 L335.5,975.9 L335.8,934.3 L336.1,949.4 L336.4,964.7 L336.7,952.6 L337.0,967.4 L337.3,956.8 L337.6,952.9 L337.9,980.4 L338.2,954.6 L338.5,954.6 L338.8,944.2 L339.1,948.9 L339.4,965.5 L339.7,964.9 L340.0,957.5 L340.3,948.5 L340.6,965.9 L341.0,923.7 L341.4,936.2 L341.8,905.3 L342.1,917.8 L342.5,894.8 L342.9,911.0 L343.3,881.0 L343.7,889.9 L344.0,859.2 L344.4,879.6 L344.8,846.3 L345.1,867.3 L345.4,827.0 L345.6,848.7 L345.9,816.9 L346.2,838.4 L346.5,794.9 L346.8,819.3 L347.0,777.3 L347.3,803.7 L347.6,759.4 L347.9,783.9 L348.1,748.2 L348.4,771.0 L349.1,742.0 L349.5,725.0 L349.9,745.0 L350.3,712.0 L350.7,698.0 L351.0,740.0 L351.3,687.3 L351.7,745.0 L352.1,700.0 L352.5,758.0 L352.9,715.0 L353.3,706.0 L353.7,748.0 L354.1,728.0 L354.5,762.0 L354.9,772.0 L355.2,770.1 L355.6,801.9 L355.9,782.6 L356.3,815.3 L356.7,787.8 L357.0,820.0 L357.4,803.0 L357.8,832.8 L358.1,818.1 L358.5,850.2 L358.9,826.1 L359.2,854.2 L360.0,854.0 L360.8,838.0 L361.6,820.0 L362.3,845.0 L363.0,838.0 L363.6,862.0 L364.2,850.0 L365.0,872.0 L365.8,862.0 L366.5,880.0 L367.0,888.6 L367.3,885.3 L367.6,926.2 L367.9,903.2 L368.2,908.0 L368.5,907.8 L368.8,912.4 L369.1,914.8 L369.4,918.7 L369.7,909.4 L370.0,937.3 L370.3,916.5 L370.6,944.9 L370.9,907.6 L371.2,919.5 L371.5,950.3 L371.8,934.7 L372.1,927.4 L372.4,943.7 L372.7,923.9 L373.0,939.1 L373.3,910.1 L373.6,930.0 L373.9,928.7 L374.2,946.7 L374.5,949.9 L374.9,927.6 L375.2,962.5 L375.5,934.7 L375.8,918.6 L376.1,919.4 L376.4,967.8 L376.7,949.9 L377.0,946.0 L377.3,946.9 L377.6,947.3 L377.9,979.0 L378.2,963.8 L378.5,986.7 L378.8,966.9 L379.1,948.9 L379.4,984.5 L379.7,971.4 L380.0,974.1 L380.3,996.5 L380.6,978.7 L380.9,993.3 L381.2,980.5 L381.5,973.6 L381.8,989.0 L382.1,977.5 L382.4,997.7 L382.7,996.6 L383.0,986.2 L383.3,992.0 L383.6,991.5 L383.9,983.8 L384.2,998.6 L384.5,987.7 L384.8,997.8 L385.2,980.7 L385.5,992.3 L385.8,996.3 L386.1,981.8 L386.4,984.5 L386.7,981.7 L387.0,996.0 L387.3,978.5 L387.6,989.0 L387.9,999.9 L388.2,986.1 L388.5,963.3 L388.8,979.9 L389.1,988.0 L389.4,972.1 L389.7,986.6 L390.0,978.7 L390.3,972.8 L390.6,963.9 L390.9,962.7 L391.2,961.4 L391.5,959.6 L391.8,969.5 L392.1,971.7 L392.4,964.3 L392.7,972.5 L393.0,978.9 L393.3,964.4 L393.6,974.4 L393.9,976.5 L394.2,986.7 L394.5,987.6 L394.8,989.8 L395.2,985.4 L395.5,1002.9 L395.8,999.5 L396.1,980.4 L396.4,999.1 L396.7,988.5 L397.0,1016.0 L397.3,995.5 L397.6,998.1 L397.9,1003.1 L398.2,999.5 L398.5,1000.4 L398.8,1017.1 L399.1,1004.3 L399.4,1008.1 L399.7,1009.7 L400.0,989.9 L400.3,1015.2 L400.6,1006.4 L400.9,1009.7 L401.2,991.2 L401.5,1010.0 L401.8,1005.9 L402.1,995.4 L402.4,1020.5 L402.7,1007.1 L403.0,1000.6 L403.3,1006.2 L403.6,1011.7 L403.9,1013.9 L404.2,1008.5 L404.5,1016.5 L404.8,1018.6 L405.1,992.5 L405.5,1000.2 L405.8,996.7 L406.1,1006.7 L406.4,1022.4 L406.7,1016.2 L407.0,999.6 L407.3,1006.3 L407.6,1018.7 L407.9,1003.0 L408.2,1008.7 L408.5,1012.8 L408.8,991.9 L409.1,1017.2 L409.4,1011.7 L409.7,1015.9 L410.0,1000.4 L410.3,1002.7 L410.6,1005.1 L410.9,1014.3 L411.2,1013.0 L411.5,1014.5 L411.8,1029.5 L412.1,1025.5 L412.4,1002.2 L412.7,1003.9 L413.0,1027.2 L413.3,1009.1 L413.6,1026.3 L413.9,1027.4 L414.2,1006.0 L414.5,1009.6 L414.8,1014.4 L415.1,1004.2 L415.5,1003.2 L415.8,1009.7 L416.1,1022.6 L416.4,1009.4 L416.7,1011.6 L417.0,1007.5 L417.3,998.8 L417.6,1027.0 L417.9,990.7 L418.2,1002.5 L418.5,1015.1 L418.8,994.2 L419.1,1013.5 L419.4,1019.1 L419.7,996.5 L420.0,1008.9 L420.3,995.0 L420.6,1010.9 L420.9,1004.4 L421.2,1006.2 L421.5,1018.0 L421.8,1007.4 L422.1,1016.3 L422.4,1009.1 L422.7,990.1 L423.0,1005.9 L423.3,1008.5 L423.6,990.1 L423.9,1019.4 L424.2,1008.7 L424.5,1011.1 L424.8,997.8 L425.1,1008.6 L425.4,1009.4 L425.8,1003.5 L426.1,1008.9 L426.4,988.7 L426.7,1024.9 L427.0,999.4 L427.3,989.6 L427.6,998.8 L427.9,1000.3 L428.2,1015.9 L428.5,998.0 L428.8,1009.7 L429.1,996.1 L429.4,1027.3 L429.7,1011.8 L430.0,1025.9 L430.3,991.3 L430.6,1011.4 L430.9,988.8 L431.2,1005.1 L431.5,1006.7 L431.8,977.3 L432.1,978.4 L432.4,975.0 L432.7,969.2 L433.0,975.3 L433.3,970.6 L433.6,963.9 L433.9,981.4 L434.2,985.3 L434.5,959.3 L434.8,965.6 L435.1,970.9 L435.4,964.5 L435.8,954.8 L436.1,973.9 L436.4,973.0 L436.7,970.7 L437.0,956.5 L437.3,986.3 L437.6,946.0 L437.9,953.8 L438.2,958.3 L438.5,977.8 L438.8,950.2 L439.1,967.9 L439.4,964.6 L439.7,953.3 L440.0,961.4 L440.3,951.3 L440.6,957.8 L440.9,949.1 L441.2,995.2 L441.5,988.3 L441.8,985.3 L442.1,973.7 L442.4,985.4 L442.7,988.2 L443.0,988.0 L443.3,987.7 L443.6,964.5 L443.9,984.8 L444.2,973.2 L444.5,965.5 L444.8,966.9 L445.1,989.3 L445.4,997.5 L445.7,968.0 L446.1,1005.5 L446.4,1004.1 L446.7,983.4 L447.0,982.1 L447.3,989.3 L447.6,1006.2 L447.9,990.2 L448.2,983.4 L448.5,1002.6 L448.8,976.2 L449.1,1000.1 L449.4,1012.6 L449.7,1003.5 L450.0,1010.2 L450.3,1006.1 L450.6,1010.0 L450.9,1003.9 L451.2,993.1 L451.5,1002.0 L451.8,1004.0 L452.1,1020.6 L452.4,1023.2 L452.7,1011.5 L453.0,998.0 L453.3,999.5 L453.6,1006.3 L453.9,1024.5 L454.2,1011.4 L454.5,1005.9 L454.8,999.5 L455.1,1017.9 L455.4,1010.8 L455.7,1006.2 L456.1,1007.8 L456.4,1025.9 L456.7,1006.7 L457.0,1025.5 L457.3,1020.8 L457.6,1006.4 L457.9,1017.2 L458.2,1005.8 L458.5,999.4 L458.8,1003.9 L459.1,998.6 L459.4,1014.0 L459.7,1008.4 L460.0,1014.6 L460.3,1019.8 L460.6,986.2 L460.9,1014.7 L461.2,993.6 L461.5,1014.2 L461.8,1031.6 L462.1,1011.9 L462.4,1025.3 L462.7,992.2 L463.0,1012.1 L463.3,1008.7 L463.6,989.4 L463.9,1016.7 L464.2,1010.1 L464.5,1004.3 L464.8,1002.6 L465.1,1035.4 L465.4,1004.9 L465.7,988.9 L466.0,997.0 L466.4,1002.2 L466.7,1000.6 L467.0,1004.9 L467.3,993.9 L467.6,1013.7 L467.9,1001.9 L468.2,992.9 L468.5,999.3 L468.8,1003.4 L469.1,1018.5 L469.4,1013.6 L469.7,1004.4 L470.0,1008.6 L470.3,1010.2 L470.6,1026.2 L470.9,998.7 L471.2,1012.2 L471.5,1016.0 L471.8,996.9 L472.1,1009.1 L472.4,1009.7 L472.7,1001.2 L473.0,1013.1 L473.3,1019.0 L473.6,1018.6 L473.9,1002.7 L474.2,1007.7 L474.5,1026.6 L474.8,992.0 L475.1,1007.3 L475.4,1016.8 L475.7,1009.5 L476.0,1014.0 L476.3,1008.1 L476.7,1041.5 L477.0,1020.2 L477.3,1002.9 L477.6,1006.4 L477.9,1003.2 L478.2,999.1 L478.5,1003.3 L478.8,990.4 L479.1,1011.6 L479.4,1019.5 L479.7,1019.4 L480.0,1014.7 L480.3,990.2 L480.6,1018.4 L480.9,993.3 L481.2,1000.6 L481.5,1019.0 L481.8,985.6 L482.1,1009.0 L482.4,1003.0 L482.7,997.0 L483.0,990.4 L483.3,1005.5 L483.6,995.3 L483.9,1013.7 L484.2,1015.4 L484.5,986.0 L484.8,995.4 L485.1,998.6 L485.4,988.5 L485.7,989.2 L486.0,1005.1 L486.3,1000.9 L486.7,985.1 L487.0,996.5 L487.3,1009.1 L487.6,988.4 L487.9,991.1 L488.2,1018.5 L488.5,1016.1 L488.8,981.9 L489.1,983.3 L489.4,1004.0 L489.7,985.1 L490.0,994.9 L490.3,993.8 L490.6,1004.7 L490.9,975.2 L491.2,977.9 L491.5,985.1 L491.8,1011.2 L492.1,996.5 L492.4,979.5 L492.7,1004.1 L493.0,1006.4 L493.3,994.0 L493.6,993.9 L493.9,1004.6 L494.2,1012.8 L494.5,999.5 L494.8,1005.2 L495.1,998.0 L495.4,993.6 L495.7,987.2 L496.0,1002.2 L496.3,993.5 L496.6,993.1 L497.0,1007.3 L497.3,1002.0 L497.6,1007.0 L497.9,978.1 L498.2,1002.6 L498.5,989.0 L498.8,987.5 L499.1,988.1 L499.4,1013.7 L499.7,1009.8 L500.0,990.8 L500.3,986.3 L500.6,1001.5 L500.9,996.4 L501.2,1021.3 L501.5,985.9 L501.8,983.5 L502.1,999.3 L502.4,1003.9 L502.7,1005.5 L503.0,1011.9 L503.3,1023.8 L503.6,998.6 L503.9,996.7 L504.2,982.8 L504.5,1005.5 L504.8,1012.7 L505.1,998.1 L505.4,1015.5 L505.7,1001.9 L506.0,1019.2 L506.3,1006.7 L506.6,987.9 L507.0,991.9 L507.3,982.6 L507.6,981.5 L507.9,1002.6 L508.2,1010.9 L508.5,1020.7 L508.8,1001.7 L509.1,998.9 L509.4,987.4 L509.7,1012.9 L510.0,1005.6 L510.3,994.8 L510.6,1010.6 L510.9,1008.3 L511.2,981.4 L511.5,1009.6 L511.8,1001.3 L512.1,993.5 L512.4,991.7 L512.7,1015.3 L513.0,1014.4 L513.3,1015.5 L513.6,982.2 L513.9,987.7 L514.2,1006.0 L514.5,980.6 L514.8,985.5 L515.1,974.1 L515.4,1015.3 L515.7,1005.8 L516.0,998.1 L516.3,995.7 L516.6,984.8 L516.9,985.1 L517.3,996.6 L517.6,978.4 L517.9,1002.1 L518.2,978.2 L518.5,971.6 L518.8,999.0 L519.1,976.9 L519.4,983.4 L519.7,965.4 L520.0,942.1 L520.3,974.2 L520.6,943.2 L520.9,974.1 L521.2,939.9 L521.5,936.9 L521.8,956.8 L522.1,956.6 L522.4,949.5 L522.7,939.1 L523.0,957.0 L523.3,934.8 L523.6,938.7 L523.9,939.9 L524.2,937.9 L524.5,960.2 L524.8,939.8 L525.1,960.3 L525.4,964.4 L525.7,939.3 L526.0,943.1 L526.3,957.8 L526.6,957.9 L526.9,973.1 L527.3,947.9 L527.6,982.7 L527.9,985.2 L528.2,974.3 L528.5,960.0 L528.8,978.9 L529.1,974.8 L529.4,989.9 L529.7,982.2 L530.0,993.2 L530.3,980.4 L530.6,1002.4 L530.9,963.4 L531.2,973.3 L531.5,992.9 L531.8,971.2 L532.1,997.2 L532.4,974.4 L532.7,990.1 L533.0,979.1 L533.3,983.5 L533.6,992.2 L533.9,989.3 L534.2,987.2 L534.5,1013.3 L534.8,992.7 L535.1,981.5 L535.4,1003.7 L535.7,1003.1 L536.0,1007.3 L536.3,1011.8 L536.6,982.2 L536.9,1005.2 L537.2,1007.3 L537.6,992.8 L537.9,994.6 L538.2,964.7 L538.5,983.9 L538.8,1008.8 L539.1,973.2 L539.4,985.5 L539.7,993.5 L540.0,995.7 L540.3,1005.5 L540.6,969.7 L540.9,987.9 L541.2,997.7 L541.5,974.2 L541.8,987.2 L542.1,1004.9 L542.4,1001.1 L542.7,993.4 L543.0,964.2 L543.3,987.4 L543.6,996.5 L543.9,988.8 L544.2,994.2 L544.5,1020.0 L544.8,992.2 L545.1,983.7 L545.4,998.6 L545.7,993.0 L546.0,993.0 L546.3,995.1 L546.6,1005.5 L546.9,999.1 L547.2,983.4 L547.6,994.2 L547.9,1002.9 L548.2,994.3 L548.5,1011.1 L548.8,1008.1 L549.1,986.9 L549.4,1000.9 L549.7,1015.2 L550.0,1010.6 L550.3,991.5 L550.6,999.4 L550.9,978.7 L551.2,967.8 L551.5,987.7 L551.8,980.7 L552.1,980.0 L552.4,969.6 L552.7,969.0 L553.0,953.4 L553.3,962.6 L553.6,964.1 L553.9,945.9 L554.2,957.4 L554.5,928.1 L554.8,925.0 L555.1,964.7 L555.4,970.4 L555.7,953.6 L556.0,953.3 L556.3,941.4 L556.6,968.5 L556.9,977.8 L557.2,954.3 L557.5,983.0 L557.9,984.6 L558.2,987.9 L558.5,970.8 L558.8,992.5 L559.1,971.9 L559.4,1003.4 L559.7,990.3 L560.0,977.2 L560.3,1001.8 L560.6,1000.8 L560.9,982.0 L561.2,1009.9 L561.5,978.0 L561.8,993.4 L562.1,1002.3 L562.4,970.3 L562.7,1000.6 L563.0,989.0 L563.3,988.5 L563.6,978.1 L563.9,994.1 L564.2,978.9 L564.5,982.2 L564.8,988.0 L565.1,979.6 L565.4,1008.7 L565.7,980.9 L566.0,985.3 L566.3,990.9 L566.6,994.6 L566.9,1002.7 L567.2,1005.1 L567.5,994.4 L567.9,993.7 L568.2,997.1 L568.5,1005.9 L568.8,1005.0 L569.1,993.1 L569.4,980.8 L569.7,1017.4 L570.0,1008.5 L570.3,1002.6 L570.6,1003.3 L570.9,994.7 L571.2,989.0 L571.5,996.8 L571.8,997.5 L572.1,994.8 L572.4,986.9 L572.7,997.9 L573.0,1006.7 L573.3,994.5 L573.6,998.5 L573.9,979.0 L574.2,995.7 L574.5,995.4 L574.8,985.0 L575.1,981.6 L575.4,1000.8 L575.7,989.4 L576.0,1001.9 L576.3,991.9 L576.6,1002.1 L576.9,991.9 L577.2,982.4 L577.5,993.8 L577.8,990.2 L578.2,1000.1 L578.5,990.5 L578.8,991.6 L579.1,1004.1 L579.4,1007.1 L579.7,1004.6 L580.0,1007.8 L580.3,1002.9 L580.6,1007.8 L580.9,1008.7 L581.2,1003.8 L581.5,1001.7 L581.8,1001.4 L582.1,1020.1 L582.4,1000.8 L582.7,997.9 L583.0,996.6 L583.3,1000.8 L583.6,1005.7 L583.9,993.4 L584.2,987.5 L584.5,1007.1 L584.8,989.3 L585.1,1008.0 L585.4,1007.3 L585.7,1016.3 L586.0,1020.7 L586.3,1009.0 L586.6,998.9 L586.9,995.4 L587.2,999.9 L587.5,1006.9 L587.8,990.5 L588.2,1008.2 L588.5,1008.4 L588.8,1015.6 L589.1,1006.7 L589.4,1011.1 L589.7,1002.7 L590.0,1005.2 L590.3,994.9 L590.6,1010.9 L590.9,1023.7 L591.2,1010.1 L591.5,1011.1 L591.8,998.3 L592.1,1020.2 L592.4,1000.0 L592.7,1014.5 L593.0,1005.3 L593.3,993.4 L593.6,1012.9 L593.9,1001.2 L594.2,1002.1 L594.5,1003.1 L594.8,995.6 L595.1,996.1 L595.4,998.2 L595.7,992.6 L596.0,994.9 L596.3,994.9 L596.6,994.8 L596.9,990.7 L597.2,992.2 L597.5,996.6 L597.8,1009.9 L598.1,994.8 L598.5,1005.3 L598.8,993.3 L599.1,1000.0 L599.4,1008.5 L599.7,997.6 L600.0,1002.7 L600.3,1021.7 L600.6,1021.0 L600.9,1021.9 L601.2,1017.6 L601.5,1044.5 L601.8,1025.8 L602.1,1020.5 L602.4,1041.7 L602.7,1034.8 L603.0,1024.8 L603.3,1038.3 L603.6,1030.2 L603.9,1034.8 L604.2,1031.2 L604.5,1018.7 L604.8,1036.0 L605.1,1029.8 L605.4,1018.1 L605.7,1021.1 L606.0,1037.0 L606.3,1024.7 L606.6,1029.2 L606.9,1036.3 L607.2,1031.7 L607.5,1016.5 L607.8,1038.1 L608.1,1040.8 L608.4,1041.3 L608.8,1045.5 L609.1,1035.0 L609.4,1040.5 L609.7,1046.3 L610.0,1029.5 L610.3,1047.5 L610.6,1048.1 L610.9,1041.0 L611.2,1048.0 L611.5,1041.2 L611.8,1024.6 L612.1,1042.8 L612.4,1036.6 L612.7,1038.3 L613.0,1034.2 L613.3,1043.9 L613.6,1038.1 L613.9,1027.1 L614.2,1037.2 L614.5,1040.1 L614.8,1026.9 L615.1,1029.1 L615.4,1029.5 L615.7,1027.5 L616.0,1036.9 L616.3,1040.9 L616.6,1047.0 L616.9,1042.3 L617.2,1042.1 L617.5,1044.1 L617.8,1045.3 L618.1,1031.1 L618.4,1041.9 L618.8,1039.4 L619.1,1035.9 L619.4,1033.6 L619.7,1034.2 L620.0,1034.1 L620.3,1026.3 L620.6,1041.0 L620.9,1035.7 L621.2,1036.3 L621.5,1038.1 L621.8,1041.4 L622.1,1030.2 L622.4,1035.8 L622.7,1022.5 L623.0,1019.8 L623.3,1020.5 L623.6,1047.5 L623.9,1020.4 L624.2,1038.8 L624.5,1045.5 L624.8,1029.5 L625.1,1046.3 L625.4,1046.4 L625.7,1038.1 L626.0,1047.5 L626.3,1035.5 L626.6,1024.5 L626.9,1036.5 L627.2,1029.2 L627.5,1022.8 L627.8,1023.9 L628.1,1052.1 L628.4,1028.8 L628.7,1032.8 L629.1,1027.1 L629.4,1033.8 L629.7,1030.2 L630.0,1028.5 L630.3,1020.2 L630.6,1019.8 L630.9,1023.2 L631.2,1032.5 L631.5,1045.7 L631.8,1038.9 L632.1,1044.8 L632.4,1036.1 L632.7,1029.7 L633.0,1018.1 L633.3,1028.5 L633.6,1009.8 L633.9,1023.1 L634.2,1038.3 L634.5,1028.2 L634.8,1035.2 L635.1,1022.6 L635.4,1015.9 L635.7,1022.6 L636.0,1023.1 L636.3,1036.8 L636.6,1041.1 L636.9,1020.6 L637.2,1026.1 L637.5,1027.6 L637.8,1026.7 L638.1,1018.3 L638.4,1029.6 L638.7,1031.2 L639.1,1032.8 L639.4,1019.8 L639.7,1030.0 L640.0,1015.7 L640.3,1038.1 L640.6,1023.5 L640.9,1030.2 L641.2,1028.7 L641.5,1027.8 L641.8,1024.5 L642.1,1020.0 L642.4,1047.7 L642.7,1036.1 L643.0,1036.1 L643.3,1047.3 L643.6,1030.6 L643.9,1035.7 L644.2,1030.6 L644.5,1039.1 L644.8,1035.3 L645.1,1032.9 L645.4,1027.2 L645.7,1032.8 L646.0,1041.1 L646.3,1014.8 L646.6,1027.5 L646.9,1025.8 L647.2,1026.8 L647.5,1012.8 L647.8,1034.7 L648.1,1021.4 L648.4,1028.4 L648.7,1025.6 L649.0,1017.6 L649.4,1027.5 L649.7,1017.2 L650.0,1025.4 L650.3,1032.3 L650.6,1035.0 L650.9,1036.6 L651.2,1034.6 L651.5,1051.4 L651.8,1039.3 L652.1,1025.7 L652.4,1031.6 L652.7,1031.8 L653.0,1036.6 L653.3,1033.1 L653.6,1032.8 L653.9,1054.9 L654.2,1042.9 L654.5,1037.1 L654.8,1038.3 L655.1,1037.3 L655.4,1050.3 L655.7,1044.3 L656.0,1047.9 L656.3,1018.2 L656.6,1041.1 L656.9,1045.7 L657.2,1050.5 L657.5,1037.8 L657.8,1024.8 L658.1,1042.7 L658.4,1032.4 L658.7,1023.4 L659.0,1030.9 L659.4,1045.6 L659.7,1046.6 L660.0,1041.4 L660.3,1026.4 L660.6,1053.3 L660.9,1028.5 L661.2,1038.7 L661.5,1027.7 L661.8,1048.2 L662.1,1041.9 L662.4,1045.1 L662.7,1039.8 L663.0,1038.9 L663.3,1042.5 L663.6,1026.1 L663.9,1050.3 L664.2,1050.6 L664.5,1038.5 L664.8,1042.4 L665.1,1044.2 L665.4,1051.6 L665.7,1042.5 L666.0,1040.6 L666.3,1037.2 L666.6,1030.3 L666.9,1035.8 L667.2,1041.2 L667.5,1039.4 L667.8,1042.7 L668.1,1047.4 L668.4,1047.7 L668.7,1045.6 L669.0,1049.7 L669.3,1046.5 L669.7,1045.8 L670.0,1047.7 L670.3,1030.1 L670.6,1055.1 L670.9,1035.7 L671.2,1053.4 L671.5,1048.5 L671.8,1056.6 L672.1,1045.1 L672.4,1036.3 L672.7,1053.6 L673.0,1047.4 L673.3,1045.7 L673.6,1045.2 L673.9,1054.2 L674.2,1053.8 L674.5,1045.8" stroke="#ee4040" stroke-width="2"/>
</g>
<rect x="416.7" y="771.9" width="199.3" height="52.2" fill="#fff" stroke="#111" stroke-width="1"/>
<text font-family="Liberation Sans, sans-serif" font-size="33" text-anchor="start" transform="translate(420.90,806.00) scale(1,1.04)"  stroke="#000" stroke-width="0.3">Al(OH)<tspan font-size="21.5" dy="6.5">3</tspan><tspan dy="-6.5">/HAP</tspan></text>
<rect x="135.5" y="979.3" width="77" height="45.3" fill="#fff" stroke="#111" stroke-width="1"/>
<text font-family="Liberation Sans, sans-serif" font-size="33" text-anchor="start" transform="translate(139.70,1013.40) scale(1,1.04)"  stroke="#000" stroke-width="0.3">HAP</text>
</svg>
</body></html>
